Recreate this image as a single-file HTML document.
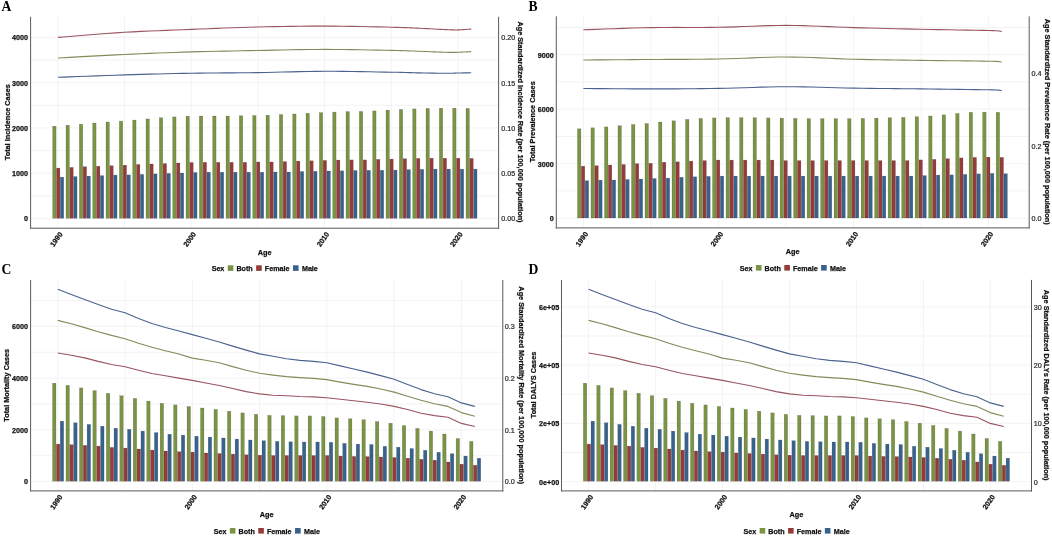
<!DOCTYPE html>
<html><head><meta charset="utf-8"><style>
html,body{margin:0;padding:0;background:#fff;}
body{width:1052px;height:536px;overflow:hidden;}
svg{display:block;}
text.b{font-weight:bold;fill:#111;stroke:#111;stroke-width:0.25px;}
text.r{fill:#2a2a2a;stroke:#2a2a2a;stroke-width:0.22px;}
svg{font-family:"Liberation Sans", sans-serif;will-change:transform;}
</style></head><body>
<svg width="1052" height="536" viewBox="0 0 1052 536">
<rect x="0" y="0" width="1052" height="536" fill="#fff"/>
<line x1="30.6" y1="218.5" x2="498.6" y2="218.5" stroke="#f0f0f0" stroke-width="0.8"/>
<line x1="30.6" y1="195.85" x2="498.6" y2="195.85" stroke="#f0f0f0" stroke-width="0.8"/>
<line x1="30.6" y1="173.2" x2="498.6" y2="173.2" stroke="#f0f0f0" stroke-width="0.8"/>
<line x1="30.6" y1="150.55" x2="498.6" y2="150.55" stroke="#f0f0f0" stroke-width="0.8"/>
<line x1="30.6" y1="127.9" x2="498.6" y2="127.9" stroke="#f0f0f0" stroke-width="0.8"/>
<line x1="30.6" y1="105.25" x2="498.6" y2="105.25" stroke="#f0f0f0" stroke-width="0.8"/>
<line x1="30.6" y1="82.6" x2="498.6" y2="82.6" stroke="#f0f0f0" stroke-width="0.8"/>
<line x1="30.6" y1="59.95" x2="498.6" y2="59.95" stroke="#f0f0f0" stroke-width="0.8"/>
<line x1="30.6" y1="37.3" x2="498.6" y2="37.3" stroke="#f0f0f0" stroke-width="0.8"/>
<line x1="57.9" y1="16.8" x2="57.9" y2="228.2" stroke="#f0f0f0" stroke-width="0.8"/>
<line x1="124.56" y1="16.8" x2="124.56" y2="228.2" stroke="#f0f0f0" stroke-width="0.8"/>
<line x1="191.23" y1="16.8" x2="191.23" y2="228.2" stroke="#f0f0f0" stroke-width="0.8"/>
<line x1="257.89" y1="16.8" x2="257.89" y2="228.2" stroke="#f0f0f0" stroke-width="0.8"/>
<line x1="324.56" y1="16.8" x2="324.56" y2="228.2" stroke="#f0f0f0" stroke-width="0.8"/>
<line x1="391.22" y1="16.8" x2="391.22" y2="228.2" stroke="#f0f0f0" stroke-width="0.8"/>
<line x1="457.89" y1="16.8" x2="457.89" y2="228.2" stroke="#f0f0f0" stroke-width="0.8"/>
<rect x="52.67" y="126.2" width="3.42" height="92.1" fill="#7a9444" stroke="#1a1a1a" stroke-opacity="0.35" stroke-width="0.4"/>
<rect x="56.49" y="168.1" width="3.42" height="50.2" fill="#963a3a" stroke="#1a1a1a" stroke-opacity="0.35" stroke-width="0.4"/>
<rect x="60.31" y="177.1" width="3.42" height="41.2" fill="#38628e" stroke="#1a1a1a" stroke-opacity="0.35" stroke-width="0.4"/>
<rect x="66" y="125.2" width="3.42" height="93.1" fill="#7a9444" stroke="#1a1a1a" stroke-opacity="0.35" stroke-width="0.4"/>
<rect x="69.82" y="167.4" width="3.42" height="50.9" fill="#963a3a" stroke="#1a1a1a" stroke-opacity="0.35" stroke-width="0.4"/>
<rect x="73.64" y="176.6" width="3.42" height="41.7" fill="#38628e" stroke="#1a1a1a" stroke-opacity="0.35" stroke-width="0.4"/>
<rect x="79.33" y="124.2" width="3.42" height="94.1" fill="#7a9444" stroke="#1a1a1a" stroke-opacity="0.35" stroke-width="0.4"/>
<rect x="83.15" y="166.7" width="3.42" height="51.6" fill="#963a3a" stroke="#1a1a1a" stroke-opacity="0.35" stroke-width="0.4"/>
<rect x="86.98" y="176.1" width="3.42" height="42.2" fill="#38628e" stroke="#1a1a1a" stroke-opacity="0.35" stroke-width="0.4"/>
<rect x="92.67" y="123" width="3.42" height="95.3" fill="#7a9444" stroke="#1a1a1a" stroke-opacity="0.35" stroke-width="0.4"/>
<rect x="96.49" y="166.2" width="3.42" height="52.1" fill="#963a3a" stroke="#1a1a1a" stroke-opacity="0.35" stroke-width="0.4"/>
<rect x="100.31" y="175.6" width="3.42" height="42.7" fill="#38628e" stroke="#1a1a1a" stroke-opacity="0.35" stroke-width="0.4"/>
<rect x="106" y="122" width="3.42" height="96.3" fill="#7a9444" stroke="#1a1a1a" stroke-opacity="0.35" stroke-width="0.4"/>
<rect x="109.82" y="165.7" width="3.42" height="52.6" fill="#963a3a" stroke="#1a1a1a" stroke-opacity="0.35" stroke-width="0.4"/>
<rect x="113.64" y="175.1" width="3.42" height="43.2" fill="#38628e" stroke="#1a1a1a" stroke-opacity="0.35" stroke-width="0.4"/>
<rect x="119.33" y="121.1" width="3.42" height="97.2" fill="#7a9444" stroke="#1a1a1a" stroke-opacity="0.35" stroke-width="0.4"/>
<rect x="123.15" y="165.2" width="3.42" height="53.1" fill="#963a3a" stroke="#1a1a1a" stroke-opacity="0.35" stroke-width="0.4"/>
<rect x="126.98" y="174.9" width="3.42" height="43.4" fill="#38628e" stroke="#1a1a1a" stroke-opacity="0.35" stroke-width="0.4"/>
<rect x="132.66" y="120.1" width="3.42" height="98.2" fill="#7a9444" stroke="#1a1a1a" stroke-opacity="0.35" stroke-width="0.4"/>
<rect x="136.49" y="164.5" width="3.42" height="53.8" fill="#963a3a" stroke="#1a1a1a" stroke-opacity="0.35" stroke-width="0.4"/>
<rect x="140.31" y="174.4" width="3.42" height="43.9" fill="#38628e" stroke="#1a1a1a" stroke-opacity="0.35" stroke-width="0.4"/>
<rect x="146" y="118.9" width="3.42" height="99.4" fill="#7a9444" stroke="#1a1a1a" stroke-opacity="0.35" stroke-width="0.4"/>
<rect x="149.82" y="164" width="3.42" height="54.3" fill="#963a3a" stroke="#1a1a1a" stroke-opacity="0.35" stroke-width="0.4"/>
<rect x="153.64" y="173.9" width="3.42" height="44.4" fill="#38628e" stroke="#1a1a1a" stroke-opacity="0.35" stroke-width="0.4"/>
<rect x="159.33" y="117.7" width="3.42" height="100.6" fill="#7a9444" stroke="#1a1a1a" stroke-opacity="0.35" stroke-width="0.4"/>
<rect x="163.15" y="163.5" width="3.42" height="54.8" fill="#963a3a" stroke="#1a1a1a" stroke-opacity="0.35" stroke-width="0.4"/>
<rect x="166.98" y="173.4" width="3.42" height="44.9" fill="#38628e" stroke="#1a1a1a" stroke-opacity="0.35" stroke-width="0.4"/>
<rect x="172.66" y="116.9" width="3.42" height="101.4" fill="#7a9444" stroke="#1a1a1a" stroke-opacity="0.35" stroke-width="0.4"/>
<rect x="176.49" y="163" width="3.42" height="55.3" fill="#963a3a" stroke="#1a1a1a" stroke-opacity="0.35" stroke-width="0.4"/>
<rect x="180.31" y="173" width="3.42" height="45.3" fill="#38628e" stroke="#1a1a1a" stroke-opacity="0.35" stroke-width="0.4"/>
<rect x="186" y="116.2" width="3.42" height="102.1" fill="#7a9444" stroke="#1a1a1a" stroke-opacity="0.35" stroke-width="0.4"/>
<rect x="189.82" y="162.5" width="3.42" height="55.8" fill="#963a3a" stroke="#1a1a1a" stroke-opacity="0.35" stroke-width="0.4"/>
<rect x="193.64" y="172.5" width="3.42" height="45.8" fill="#38628e" stroke="#1a1a1a" stroke-opacity="0.35" stroke-width="0.4"/>
<rect x="199.33" y="116" width="3.42" height="102.3" fill="#7a9444" stroke="#1a1a1a" stroke-opacity="0.35" stroke-width="0.4"/>
<rect x="203.15" y="162.3" width="3.42" height="56" fill="#963a3a" stroke="#1a1a1a" stroke-opacity="0.35" stroke-width="0.4"/>
<rect x="206.97" y="172.2" width="3.42" height="46.1" fill="#38628e" stroke="#1a1a1a" stroke-opacity="0.35" stroke-width="0.4"/>
<rect x="212.66" y="116" width="3.42" height="102.3" fill="#7a9444" stroke="#1a1a1a" stroke-opacity="0.35" stroke-width="0.4"/>
<rect x="216.48" y="162.3" width="3.42" height="56" fill="#963a3a" stroke="#1a1a1a" stroke-opacity="0.35" stroke-width="0.4"/>
<rect x="220.31" y="172.2" width="3.42" height="46.1" fill="#38628e" stroke="#1a1a1a" stroke-opacity="0.35" stroke-width="0.4"/>
<rect x="226" y="116" width="3.42" height="102.3" fill="#7a9444" stroke="#1a1a1a" stroke-opacity="0.35" stroke-width="0.4"/>
<rect x="229.82" y="162.3" width="3.42" height="56" fill="#963a3a" stroke="#1a1a1a" stroke-opacity="0.35" stroke-width="0.4"/>
<rect x="233.64" y="172.2" width="3.42" height="46.1" fill="#38628e" stroke="#1a1a1a" stroke-opacity="0.35" stroke-width="0.4"/>
<rect x="239.33" y="115.7" width="3.42" height="102.6" fill="#7a9444" stroke="#1a1a1a" stroke-opacity="0.35" stroke-width="0.4"/>
<rect x="243.15" y="162.3" width="3.42" height="56" fill="#963a3a" stroke="#1a1a1a" stroke-opacity="0.35" stroke-width="0.4"/>
<rect x="246.97" y="172.2" width="3.42" height="46.1" fill="#38628e" stroke="#1a1a1a" stroke-opacity="0.35" stroke-width="0.4"/>
<rect x="252.66" y="115.5" width="3.42" height="102.8" fill="#7a9444" stroke="#1a1a1a" stroke-opacity="0.35" stroke-width="0.4"/>
<rect x="256.48" y="162" width="3.42" height="56.3" fill="#963a3a" stroke="#1a1a1a" stroke-opacity="0.35" stroke-width="0.4"/>
<rect x="260.31" y="172.2" width="3.42" height="46.1" fill="#38628e" stroke="#1a1a1a" stroke-opacity="0.35" stroke-width="0.4"/>
<rect x="265.99" y="115.2" width="3.42" height="103.1" fill="#7a9444" stroke="#1a1a1a" stroke-opacity="0.35" stroke-width="0.4"/>
<rect x="269.82" y="162" width="3.42" height="56.3" fill="#963a3a" stroke="#1a1a1a" stroke-opacity="0.35" stroke-width="0.4"/>
<rect x="273.64" y="172" width="3.42" height="46.3" fill="#38628e" stroke="#1a1a1a" stroke-opacity="0.35" stroke-width="0.4"/>
<rect x="279.33" y="114.5" width="3.42" height="103.8" fill="#7a9444" stroke="#1a1a1a" stroke-opacity="0.35" stroke-width="0.4"/>
<rect x="283.15" y="161.6" width="3.42" height="56.7" fill="#963a3a" stroke="#1a1a1a" stroke-opacity="0.35" stroke-width="0.4"/>
<rect x="286.97" y="172" width="3.42" height="46.3" fill="#38628e" stroke="#1a1a1a" stroke-opacity="0.35" stroke-width="0.4"/>
<rect x="292.66" y="114" width="3.42" height="104.3" fill="#7a9444" stroke="#1a1a1a" stroke-opacity="0.35" stroke-width="0.4"/>
<rect x="296.48" y="161.1" width="3.42" height="57.2" fill="#963a3a" stroke="#1a1a1a" stroke-opacity="0.35" stroke-width="0.4"/>
<rect x="300.31" y="171.5" width="3.42" height="46.8" fill="#38628e" stroke="#1a1a1a" stroke-opacity="0.35" stroke-width="0.4"/>
<rect x="305.99" y="113.3" width="3.42" height="105" fill="#7a9444" stroke="#1a1a1a" stroke-opacity="0.35" stroke-width="0.4"/>
<rect x="309.82" y="160.8" width="3.42" height="57.5" fill="#963a3a" stroke="#1a1a1a" stroke-opacity="0.35" stroke-width="0.4"/>
<rect x="313.64" y="171.3" width="3.42" height="47" fill="#38628e" stroke="#1a1a1a" stroke-opacity="0.35" stroke-width="0.4"/>
<rect x="319.33" y="112.6" width="3.42" height="105.7" fill="#7a9444" stroke="#1a1a1a" stroke-opacity="0.35" stroke-width="0.4"/>
<rect x="323.15" y="160.4" width="3.42" height="57.9" fill="#963a3a" stroke="#1a1a1a" stroke-opacity="0.35" stroke-width="0.4"/>
<rect x="326.97" y="171" width="3.42" height="47.3" fill="#38628e" stroke="#1a1a1a" stroke-opacity="0.35" stroke-width="0.4"/>
<rect x="332.66" y="112.1" width="3.42" height="106.2" fill="#7a9444" stroke="#1a1a1a" stroke-opacity="0.35" stroke-width="0.4"/>
<rect x="336.48" y="160.1" width="3.42" height="58.2" fill="#963a3a" stroke="#1a1a1a" stroke-opacity="0.35" stroke-width="0.4"/>
<rect x="340.3" y="170.8" width="3.42" height="47.5" fill="#38628e" stroke="#1a1a1a" stroke-opacity="0.35" stroke-width="0.4"/>
<rect x="345.99" y="111.6" width="3.42" height="106.7" fill="#7a9444" stroke="#1a1a1a" stroke-opacity="0.35" stroke-width="0.4"/>
<rect x="349.81" y="159.9" width="3.42" height="58.4" fill="#963a3a" stroke="#1a1a1a" stroke-opacity="0.35" stroke-width="0.4"/>
<rect x="353.64" y="170.5" width="3.42" height="47.8" fill="#38628e" stroke="#1a1a1a" stroke-opacity="0.35" stroke-width="0.4"/>
<rect x="359.33" y="111.4" width="3.42" height="106.9" fill="#7a9444" stroke="#1a1a1a" stroke-opacity="0.35" stroke-width="0.4"/>
<rect x="363.15" y="159.9" width="3.42" height="58.4" fill="#963a3a" stroke="#1a1a1a" stroke-opacity="0.35" stroke-width="0.4"/>
<rect x="366.97" y="170.3" width="3.42" height="48" fill="#38628e" stroke="#1a1a1a" stroke-opacity="0.35" stroke-width="0.4"/>
<rect x="372.66" y="110.9" width="3.42" height="107.4" fill="#7a9444" stroke="#1a1a1a" stroke-opacity="0.35" stroke-width="0.4"/>
<rect x="376.48" y="159.4" width="3.42" height="58.9" fill="#963a3a" stroke="#1a1a1a" stroke-opacity="0.35" stroke-width="0.4"/>
<rect x="380.3" y="170.3" width="3.42" height="48" fill="#38628e" stroke="#1a1a1a" stroke-opacity="0.35" stroke-width="0.4"/>
<rect x="385.99" y="110.1" width="3.42" height="108.2" fill="#7a9444" stroke="#1a1a1a" stroke-opacity="0.35" stroke-width="0.4"/>
<rect x="389.81" y="159.1" width="3.42" height="59.2" fill="#963a3a" stroke="#1a1a1a" stroke-opacity="0.35" stroke-width="0.4"/>
<rect x="393.64" y="170.1" width="3.42" height="48.2" fill="#38628e" stroke="#1a1a1a" stroke-opacity="0.35" stroke-width="0.4"/>
<rect x="399.32" y="109.4" width="3.42" height="108.9" fill="#7a9444" stroke="#1a1a1a" stroke-opacity="0.35" stroke-width="0.4"/>
<rect x="403.15" y="158.7" width="3.42" height="59.6" fill="#963a3a" stroke="#1a1a1a" stroke-opacity="0.35" stroke-width="0.4"/>
<rect x="406.97" y="169.6" width="3.42" height="48.7" fill="#38628e" stroke="#1a1a1a" stroke-opacity="0.35" stroke-width="0.4"/>
<rect x="412.66" y="108.9" width="3.42" height="109.4" fill="#7a9444" stroke="#1a1a1a" stroke-opacity="0.35" stroke-width="0.4"/>
<rect x="416.48" y="158.4" width="3.42" height="59.9" fill="#963a3a" stroke="#1a1a1a" stroke-opacity="0.35" stroke-width="0.4"/>
<rect x="420.3" y="169.3" width="3.42" height="49" fill="#38628e" stroke="#1a1a1a" stroke-opacity="0.35" stroke-width="0.4"/>
<rect x="425.99" y="108.4" width="3.42" height="109.9" fill="#7a9444" stroke="#1a1a1a" stroke-opacity="0.35" stroke-width="0.4"/>
<rect x="429.81" y="158.2" width="3.42" height="60.1" fill="#963a3a" stroke="#1a1a1a" stroke-opacity="0.35" stroke-width="0.4"/>
<rect x="433.64" y="169.1" width="3.42" height="49.2" fill="#38628e" stroke="#1a1a1a" stroke-opacity="0.35" stroke-width="0.4"/>
<rect x="439.32" y="108.2" width="3.42" height="110.1" fill="#7a9444" stroke="#1a1a1a" stroke-opacity="0.35" stroke-width="0.4"/>
<rect x="443.15" y="158.2" width="3.42" height="60.1" fill="#963a3a" stroke="#1a1a1a" stroke-opacity="0.35" stroke-width="0.4"/>
<rect x="446.97" y="169.1" width="3.42" height="49.2" fill="#38628e" stroke="#1a1a1a" stroke-opacity="0.35" stroke-width="0.4"/>
<rect x="452.66" y="108.2" width="3.42" height="110.1" fill="#7a9444" stroke="#1a1a1a" stroke-opacity="0.35" stroke-width="0.4"/>
<rect x="456.48" y="158.2" width="3.42" height="60.1" fill="#963a3a" stroke="#1a1a1a" stroke-opacity="0.35" stroke-width="0.4"/>
<rect x="460.3" y="169.1" width="3.42" height="49.2" fill="#38628e" stroke="#1a1a1a" stroke-opacity="0.35" stroke-width="0.4"/>
<rect x="465.99" y="108.4" width="3.42" height="109.9" fill="#7a9444" stroke="#1a1a1a" stroke-opacity="0.35" stroke-width="0.4"/>
<rect x="469.81" y="158.4" width="3.42" height="59.9" fill="#963a3a" stroke="#1a1a1a" stroke-opacity="0.35" stroke-width="0.4"/>
<rect x="473.63" y="169.1" width="3.42" height="49.2" fill="#38628e" stroke="#1a1a1a" stroke-opacity="0.35" stroke-width="0.4"/>
<path d="M58 37.4 L63.13 36.99 L69.94 36.43 L78.05 35.76 L87.08 35.03 L96.62 34.28 L106.3 33.54 L115.72 32.87 L124.5 32.3 L132.84 31.83 L141.19 31.41 L149.55 31.03 L157.92 30.68 L166.28 30.35 L174.64 30.04 L182.98 29.72 L191.3 29.4 L199.59 29.07 L207.86 28.73 L216.11 28.4 L224.36 28.07 L232.61 27.77 L240.87 27.48 L249.17 27.22 L257.5 27 L265.88 26.8 L274.3 26.62 L282.76 26.46 L291.23 26.33 L299.7 26.23 L308.16 26.15 L316.6 26.11 L325 26.1 L333.63 26.14 L342.61 26.23 L351.72 26.37 L360.74 26.53 L369.46 26.7 L377.66 26.88 L385.11 27.05 L391.6 27.2 L396.99 27.34 L401.44 27.47 L405.15 27.6 L408.34 27.74 L411.2 27.87 L413.96 28.01 L416.83 28.15 L420 28.3 L423.46 28.46 L427 28.63 L430.55 28.82 L434.04 29 L437.4 29.18 L440.55 29.34 L443.45 29.48 L446 29.6 L448.14 29.69 L449.91 29.77 L451.39 29.84 L452.69 29.89 L453.88 29.92 L455.07 29.93 L456.35 29.93 L457.8 29.9 L459.49 29.84 L461.35 29.74 L463.3 29.61 L465.24 29.47 L467.09 29.32 L468.75 29.19 L470.16 29.08 L471.2 29" fill="none" stroke="#9a5460" stroke-width="1.1" stroke-linejoin="round"/>
<path d="M58 58 L63.13 57.72 L69.94 57.35 L78.05 56.9 L87.08 56.41 L96.62 55.9 L106.3 55.39 L115.72 54.92 L124.5 54.5 L132.84 54.12 L141.19 53.76 L149.55 53.41 L157.92 53.07 L166.28 52.75 L174.64 52.44 L182.98 52.16 L191.3 51.9 L199.59 51.67 L207.86 51.46 L216.11 51.27 L224.36 51.11 L232.61 50.95 L240.87 50.8 L249.17 50.65 L257.5 50.5 L265.88 50.33 L274.3 50.15 L282.76 49.97 L291.23 49.8 L299.7 49.65 L308.16 49.52 L316.6 49.43 L325 49.4 L333.63 49.43 L342.61 49.5 L351.72 49.63 L360.74 49.77 L369.46 49.94 L377.66 50.11 L385.11 50.27 L391.6 50.4 L396.99 50.52 L401.44 50.63 L405.15 50.74 L408.34 50.85 L411.2 50.96 L413.96 51.07 L416.83 51.18 L420 51.3 L423.46 51.43 L427 51.57 L430.55 51.71 L434.04 51.86 L437.4 51.99 L440.55 52.12 L443.45 52.22 L446 52.3 L448.14 52.35 L449.91 52.39 L451.39 52.4 L452.69 52.41 L453.88 52.4 L455.07 52.37 L456.35 52.34 L457.8 52.3 L459.49 52.24 L461.35 52.16 L463.3 52.06 L465.24 51.95 L467.09 51.84 L468.75 51.74 L470.16 51.66 L471.2 51.6" fill="none" stroke="#7f8d58" stroke-width="1.1" stroke-linejoin="round"/>
<path d="M58 77.3 L63.13 77.11 L69.94 76.85 L78.05 76.55 L87.08 76.21 L96.62 75.85 L106.3 75.51 L115.72 75.18 L124.5 74.9 L132.84 74.65 L141.19 74.4 L149.55 74.16 L157.92 73.94 L166.28 73.73 L174.64 73.53 L182.98 73.36 L191.3 73.2 L199.59 73.08 L207.86 72.99 L216.11 72.93 L224.36 72.88 L232.61 72.83 L240.87 72.77 L249.17 72.7 L257.5 72.6 L265.88 72.46 L274.3 72.27 L282.76 72.07 L291.23 71.86 L299.7 71.66 L308.16 71.49 L316.6 71.36 L325 71.3 L333.63 71.31 L342.61 71.38 L351.72 71.49 L360.74 71.62 L369.46 71.78 L377.66 71.94 L385.11 72.08 L391.6 72.2 L396.99 72.3 L401.44 72.4 L405.15 72.49 L408.34 72.58 L411.2 72.67 L413.96 72.75 L416.83 72.83 L420 72.9 L423.46 72.97 L427 73.04 L430.55 73.1 L434.04 73.16 L437.4 73.21 L440.55 73.26 L443.45 73.29 L446 73.3 L448.14 73.3 L449.91 73.27 L451.39 73.23 L452.69 73.19 L453.88 73.14 L455.07 73.08 L456.35 73.04 L457.8 73 L459.49 72.97 L461.35 72.94 L463.3 72.91 L465.24 72.88 L467.09 72.86 L468.75 72.83 L470.16 72.81 L471.2 72.8" fill="none" stroke="#4b6290" stroke-width="1.1" stroke-linejoin="round"/>
<line x1="30.6" y1="16.8" x2="30.6" y2="228.7" stroke="#5a5a5a" stroke-width="1"/>
<line x1="498.6" y1="16.8" x2="498.6" y2="228.7" stroke="#5a5a5a" stroke-width="1"/>
<line x1="30.1" y1="228.2" x2="499.1" y2="228.2" stroke="#5a5a5a" stroke-width="1"/>
<text x="28" y="221.48" text-anchor="end" class="b" font-size="7.2">0</text>
<text x="28" y="176.18" text-anchor="end" class="b" font-size="7.2">1000</text>
<text x="28" y="130.88" text-anchor="end" class="b" font-size="7.2">2000</text>
<text x="28" y="85.58" text-anchor="end" class="b" font-size="7.2">3000</text>
<text x="28" y="40.28" text-anchor="end" class="b" font-size="7.2">4000</text>
<text x="501.2" y="221.48" class="r" font-size="7.2">0.00</text>
<text x="501.2" y="176.18" class="r" font-size="7.2">0.05</text>
<text x="501.2" y="130.88" class="r" font-size="7.2">0.10</text>
<text x="501.2" y="85.58" class="r" font-size="7.2">0.15</text>
<text x="501.2" y="40.28" class="r" font-size="7.2">0.20</text>
<text transform="translate(58.7 231.2) rotate(-55)" text-anchor="end" class="b" font-size="7.2" dy="5.18">1990</text>
<text transform="translate(192.03 231.2) rotate(-55)" text-anchor="end" class="b" font-size="7.2" dy="5.18">2000</text>
<text transform="translate(325.36 231.2) rotate(-55)" text-anchor="end" class="b" font-size="7.2" dy="5.18">2010</text>
<text transform="translate(458.69 231.2) rotate(-55)" text-anchor="end" class="b" font-size="7.2" dy="5.18">2020</text>
<text transform="translate(9.6 122.2) rotate(-90)" text-anchor="middle" class="b" font-size="7.3">Total Incidence Cases</text>
<text transform="translate(518 122) rotate(90)" text-anchor="middle" class="b" font-size="7.3">Age Standardized Incidence Rate (per 100,000 population)</text>
<text x="264.6" y="254.5" text-anchor="middle" class="b" font-size="7.3">Age</text>
<text x="211.65" y="271.1" class="b" font-size="7.15">Sex</text>
<rect x="227.75" y="265.3" width="5.6" height="5.6" fill="#7a9444"/>
<rect x="256.15" y="265.3" width="5.6" height="5.6" fill="#963a3a"/>
<rect x="292.95" y="265.3" width="5.6" height="5.6" fill="#38628e"/>
<text x="236.45" y="271.1" class="b" font-size="7.15">Both</text>
<text x="264.85" y="271.1" class="b" font-size="7.15">Female</text>
<text x="301.95" y="271.1" class="b" font-size="7.15">Male</text>
<text x="1.4" y="11" font-family='"Liberation Serif", serif' font-weight="bold" font-size="13.6" fill="#000">A</text>
<line x1="556.3" y1="218.2" x2="1029.2" y2="218.2" stroke="#f0f0f0" stroke-width="0.8"/>
<line x1="556.3" y1="190.95" x2="1029.2" y2="190.95" stroke="#f0f0f0" stroke-width="0.8"/>
<line x1="556.3" y1="163.7" x2="1029.2" y2="163.7" stroke="#f0f0f0" stroke-width="0.8"/>
<line x1="556.3" y1="136.45" x2="1029.2" y2="136.45" stroke="#f0f0f0" stroke-width="0.8"/>
<line x1="556.3" y1="109.2" x2="1029.2" y2="109.2" stroke="#f0f0f0" stroke-width="0.8"/>
<line x1="556.3" y1="81.95" x2="1029.2" y2="81.95" stroke="#f0f0f0" stroke-width="0.8"/>
<line x1="556.3" y1="54.7" x2="1029.2" y2="54.7" stroke="#f0f0f0" stroke-width="0.8"/>
<line x1="556.3" y1="27.45" x2="1029.2" y2="27.45" stroke="#f0f0f0" stroke-width="0.8"/>
<line x1="583.4" y1="16.3" x2="583.4" y2="227.9" stroke="#f0f0f0" stroke-width="0.8"/>
<line x1="650.93" y1="16.3" x2="650.93" y2="227.9" stroke="#f0f0f0" stroke-width="0.8"/>
<line x1="718.47" y1="16.3" x2="718.47" y2="227.9" stroke="#f0f0f0" stroke-width="0.8"/>
<line x1="786" y1="16.3" x2="786" y2="227.9" stroke="#f0f0f0" stroke-width="0.8"/>
<line x1="853.54" y1="16.3" x2="853.54" y2="227.9" stroke="#f0f0f0" stroke-width="0.8"/>
<line x1="921.08" y1="16.3" x2="921.08" y2="227.9" stroke="#f0f0f0" stroke-width="0.8"/>
<line x1="988.61" y1="16.3" x2="988.61" y2="227.9" stroke="#f0f0f0" stroke-width="0.8"/>
<rect x="577.44" y="128.8" width="3.47" height="89.2" fill="#7a9444" stroke="#1a1a1a" stroke-opacity="0.35" stroke-width="0.4"/>
<rect x="581.31" y="166.2" width="3.47" height="51.8" fill="#963a3a" stroke="#1a1a1a" stroke-opacity="0.35" stroke-width="0.4"/>
<rect x="585.19" y="180.7" width="3.47" height="37.3" fill="#38628e" stroke="#1a1a1a" stroke-opacity="0.35" stroke-width="0.4"/>
<rect x="590.95" y="127.8" width="3.47" height="90.2" fill="#7a9444" stroke="#1a1a1a" stroke-opacity="0.35" stroke-width="0.4"/>
<rect x="594.82" y="165.7" width="3.47" height="52.3" fill="#963a3a" stroke="#1a1a1a" stroke-opacity="0.35" stroke-width="0.4"/>
<rect x="598.69" y="180.2" width="3.47" height="37.8" fill="#38628e" stroke="#1a1a1a" stroke-opacity="0.35" stroke-width="0.4"/>
<rect x="604.46" y="126.9" width="3.47" height="91.1" fill="#7a9444" stroke="#1a1a1a" stroke-opacity="0.35" stroke-width="0.4"/>
<rect x="608.33" y="165" width="3.47" height="53" fill="#963a3a" stroke="#1a1a1a" stroke-opacity="0.35" stroke-width="0.4"/>
<rect x="612.2" y="180" width="3.47" height="38" fill="#38628e" stroke="#1a1a1a" stroke-opacity="0.35" stroke-width="0.4"/>
<rect x="617.96" y="125.7" width="3.47" height="92.3" fill="#7a9444" stroke="#1a1a1a" stroke-opacity="0.35" stroke-width="0.4"/>
<rect x="621.83" y="164.5" width="3.47" height="53.5" fill="#963a3a" stroke="#1a1a1a" stroke-opacity="0.35" stroke-width="0.4"/>
<rect x="625.71" y="179.5" width="3.47" height="38.5" fill="#38628e" stroke="#1a1a1a" stroke-opacity="0.35" stroke-width="0.4"/>
<rect x="631.47" y="124.5" width="3.47" height="93.5" fill="#7a9444" stroke="#1a1a1a" stroke-opacity="0.35" stroke-width="0.4"/>
<rect x="635.34" y="163.7" width="3.47" height="54.3" fill="#963a3a" stroke="#1a1a1a" stroke-opacity="0.35" stroke-width="0.4"/>
<rect x="639.21" y="179" width="3.47" height="39" fill="#38628e" stroke="#1a1a1a" stroke-opacity="0.35" stroke-width="0.4"/>
<rect x="644.98" y="123.5" width="3.47" height="94.5" fill="#7a9444" stroke="#1a1a1a" stroke-opacity="0.35" stroke-width="0.4"/>
<rect x="648.85" y="163.3" width="3.47" height="54.7" fill="#963a3a" stroke="#1a1a1a" stroke-opacity="0.35" stroke-width="0.4"/>
<rect x="652.72" y="178.5" width="3.47" height="39.5" fill="#38628e" stroke="#1a1a1a" stroke-opacity="0.35" stroke-width="0.4"/>
<rect x="658.48" y="122" width="3.47" height="96" fill="#7a9444" stroke="#1a1a1a" stroke-opacity="0.35" stroke-width="0.4"/>
<rect x="662.36" y="162.3" width="3.47" height="55.7" fill="#963a3a" stroke="#1a1a1a" stroke-opacity="0.35" stroke-width="0.4"/>
<rect x="666.23" y="178.1" width="3.47" height="39.9" fill="#38628e" stroke="#1a1a1a" stroke-opacity="0.35" stroke-width="0.4"/>
<rect x="671.99" y="120.8" width="3.47" height="97.2" fill="#7a9444" stroke="#1a1a1a" stroke-opacity="0.35" stroke-width="0.4"/>
<rect x="675.86" y="161.8" width="3.47" height="56.2" fill="#963a3a" stroke="#1a1a1a" stroke-opacity="0.35" stroke-width="0.4"/>
<rect x="679.74" y="177.3" width="3.47" height="40.7" fill="#38628e" stroke="#1a1a1a" stroke-opacity="0.35" stroke-width="0.4"/>
<rect x="685.5" y="119.4" width="3.47" height="98.6" fill="#7a9444" stroke="#1a1a1a" stroke-opacity="0.35" stroke-width="0.4"/>
<rect x="689.37" y="161.1" width="3.47" height="56.9" fill="#963a3a" stroke="#1a1a1a" stroke-opacity="0.35" stroke-width="0.4"/>
<rect x="693.24" y="176.8" width="3.47" height="41.2" fill="#38628e" stroke="#1a1a1a" stroke-opacity="0.35" stroke-width="0.4"/>
<rect x="699" y="118.4" width="3.47" height="99.6" fill="#7a9444" stroke="#1a1a1a" stroke-opacity="0.35" stroke-width="0.4"/>
<rect x="702.88" y="160.6" width="3.47" height="57.4" fill="#963a3a" stroke="#1a1a1a" stroke-opacity="0.35" stroke-width="0.4"/>
<rect x="706.75" y="176.4" width="3.47" height="41.6" fill="#38628e" stroke="#1a1a1a" stroke-opacity="0.35" stroke-width="0.4"/>
<rect x="712.51" y="117.9" width="3.47" height="100.1" fill="#7a9444" stroke="#1a1a1a" stroke-opacity="0.35" stroke-width="0.4"/>
<rect x="716.38" y="160.1" width="3.47" height="57.9" fill="#963a3a" stroke="#1a1a1a" stroke-opacity="0.35" stroke-width="0.4"/>
<rect x="720.26" y="176.1" width="3.47" height="41.9" fill="#38628e" stroke="#1a1a1a" stroke-opacity="0.35" stroke-width="0.4"/>
<rect x="726.02" y="117.7" width="3.47" height="100.3" fill="#7a9444" stroke="#1a1a1a" stroke-opacity="0.35" stroke-width="0.4"/>
<rect x="729.89" y="160.1" width="3.47" height="57.9" fill="#963a3a" stroke="#1a1a1a" stroke-opacity="0.35" stroke-width="0.4"/>
<rect x="733.76" y="176.1" width="3.47" height="41.9" fill="#38628e" stroke="#1a1a1a" stroke-opacity="0.35" stroke-width="0.4"/>
<rect x="739.53" y="117.7" width="3.47" height="100.3" fill="#7a9444" stroke="#1a1a1a" stroke-opacity="0.35" stroke-width="0.4"/>
<rect x="743.4" y="160.1" width="3.47" height="57.9" fill="#963a3a" stroke="#1a1a1a" stroke-opacity="0.35" stroke-width="0.4"/>
<rect x="747.27" y="176.1" width="3.47" height="41.9" fill="#38628e" stroke="#1a1a1a" stroke-opacity="0.35" stroke-width="0.4"/>
<rect x="753.03" y="117.7" width="3.47" height="100.3" fill="#7a9444" stroke="#1a1a1a" stroke-opacity="0.35" stroke-width="0.4"/>
<rect x="756.9" y="160.1" width="3.47" height="57.9" fill="#963a3a" stroke="#1a1a1a" stroke-opacity="0.35" stroke-width="0.4"/>
<rect x="760.78" y="176.1" width="3.47" height="41.9" fill="#38628e" stroke="#1a1a1a" stroke-opacity="0.35" stroke-width="0.4"/>
<rect x="766.54" y="117.9" width="3.47" height="100.1" fill="#7a9444" stroke="#1a1a1a" stroke-opacity="0.35" stroke-width="0.4"/>
<rect x="770.41" y="160.1" width="3.47" height="57.9" fill="#963a3a" stroke="#1a1a1a" stroke-opacity="0.35" stroke-width="0.4"/>
<rect x="774.28" y="176.1" width="3.47" height="41.9" fill="#38628e" stroke="#1a1a1a" stroke-opacity="0.35" stroke-width="0.4"/>
<rect x="780.05" y="118.1" width="3.47" height="99.9" fill="#7a9444" stroke="#1a1a1a" stroke-opacity="0.35" stroke-width="0.4"/>
<rect x="783.92" y="160.6" width="3.47" height="57.4" fill="#963a3a" stroke="#1a1a1a" stroke-opacity="0.35" stroke-width="0.4"/>
<rect x="787.79" y="176.1" width="3.47" height="41.9" fill="#38628e" stroke="#1a1a1a" stroke-opacity="0.35" stroke-width="0.4"/>
<rect x="793.55" y="118.4" width="3.47" height="99.6" fill="#7a9444" stroke="#1a1a1a" stroke-opacity="0.35" stroke-width="0.4"/>
<rect x="797.43" y="160.6" width="3.47" height="57.4" fill="#963a3a" stroke="#1a1a1a" stroke-opacity="0.35" stroke-width="0.4"/>
<rect x="801.3" y="176.1" width="3.47" height="41.9" fill="#38628e" stroke="#1a1a1a" stroke-opacity="0.35" stroke-width="0.4"/>
<rect x="807.06" y="118.6" width="3.47" height="99.4" fill="#7a9444" stroke="#1a1a1a" stroke-opacity="0.35" stroke-width="0.4"/>
<rect x="810.93" y="160.6" width="3.47" height="57.4" fill="#963a3a" stroke="#1a1a1a" stroke-opacity="0.35" stroke-width="0.4"/>
<rect x="814.81" y="176.1" width="3.47" height="41.9" fill="#38628e" stroke="#1a1a1a" stroke-opacity="0.35" stroke-width="0.4"/>
<rect x="820.57" y="118.6" width="3.47" height="99.4" fill="#7a9444" stroke="#1a1a1a" stroke-opacity="0.35" stroke-width="0.4"/>
<rect x="824.44" y="160.6" width="3.47" height="57.4" fill="#963a3a" stroke="#1a1a1a" stroke-opacity="0.35" stroke-width="0.4"/>
<rect x="828.31" y="176.1" width="3.47" height="41.9" fill="#38628e" stroke="#1a1a1a" stroke-opacity="0.35" stroke-width="0.4"/>
<rect x="834.07" y="118.6" width="3.47" height="99.4" fill="#7a9444" stroke="#1a1a1a" stroke-opacity="0.35" stroke-width="0.4"/>
<rect x="837.95" y="160.6" width="3.47" height="57.4" fill="#963a3a" stroke="#1a1a1a" stroke-opacity="0.35" stroke-width="0.4"/>
<rect x="841.82" y="176.1" width="3.47" height="41.9" fill="#38628e" stroke="#1a1a1a" stroke-opacity="0.35" stroke-width="0.4"/>
<rect x="847.58" y="118.6" width="3.47" height="99.4" fill="#7a9444" stroke="#1a1a1a" stroke-opacity="0.35" stroke-width="0.4"/>
<rect x="851.45" y="160.6" width="3.47" height="57.4" fill="#963a3a" stroke="#1a1a1a" stroke-opacity="0.35" stroke-width="0.4"/>
<rect x="855.33" y="176.1" width="3.47" height="41.9" fill="#38628e" stroke="#1a1a1a" stroke-opacity="0.35" stroke-width="0.4"/>
<rect x="861.09" y="118.4" width="3.47" height="99.6" fill="#7a9444" stroke="#1a1a1a" stroke-opacity="0.35" stroke-width="0.4"/>
<rect x="864.96" y="160.6" width="3.47" height="57.4" fill="#963a3a" stroke="#1a1a1a" stroke-opacity="0.35" stroke-width="0.4"/>
<rect x="868.83" y="176.1" width="3.47" height="41.9" fill="#38628e" stroke="#1a1a1a" stroke-opacity="0.35" stroke-width="0.4"/>
<rect x="874.6" y="118.1" width="3.47" height="99.9" fill="#7a9444" stroke="#1a1a1a" stroke-opacity="0.35" stroke-width="0.4"/>
<rect x="878.47" y="160.6" width="3.47" height="57.4" fill="#963a3a" stroke="#1a1a1a" stroke-opacity="0.35" stroke-width="0.4"/>
<rect x="882.34" y="176.1" width="3.47" height="41.9" fill="#38628e" stroke="#1a1a1a" stroke-opacity="0.35" stroke-width="0.4"/>
<rect x="888.1" y="117.7" width="3.47" height="100.3" fill="#7a9444" stroke="#1a1a1a" stroke-opacity="0.35" stroke-width="0.4"/>
<rect x="891.97" y="160.6" width="3.47" height="57.4" fill="#963a3a" stroke="#1a1a1a" stroke-opacity="0.35" stroke-width="0.4"/>
<rect x="895.85" y="176.1" width="3.47" height="41.9" fill="#38628e" stroke="#1a1a1a" stroke-opacity="0.35" stroke-width="0.4"/>
<rect x="901.61" y="117.4" width="3.47" height="100.6" fill="#7a9444" stroke="#1a1a1a" stroke-opacity="0.35" stroke-width="0.4"/>
<rect x="905.48" y="160.6" width="3.47" height="57.4" fill="#963a3a" stroke="#1a1a1a" stroke-opacity="0.35" stroke-width="0.4"/>
<rect x="909.35" y="176.1" width="3.47" height="41.9" fill="#38628e" stroke="#1a1a1a" stroke-opacity="0.35" stroke-width="0.4"/>
<rect x="915.12" y="116.7" width="3.47" height="101.3" fill="#7a9444" stroke="#1a1a1a" stroke-opacity="0.35" stroke-width="0.4"/>
<rect x="918.99" y="159.9" width="3.47" height="58.1" fill="#963a3a" stroke="#1a1a1a" stroke-opacity="0.35" stroke-width="0.4"/>
<rect x="922.86" y="175.6" width="3.47" height="42.4" fill="#38628e" stroke="#1a1a1a" stroke-opacity="0.35" stroke-width="0.4"/>
<rect x="928.62" y="116" width="3.47" height="102" fill="#7a9444" stroke="#1a1a1a" stroke-opacity="0.35" stroke-width="0.4"/>
<rect x="932.5" y="159.4" width="3.47" height="58.6" fill="#963a3a" stroke="#1a1a1a" stroke-opacity="0.35" stroke-width="0.4"/>
<rect x="936.37" y="175.1" width="3.47" height="42.9" fill="#38628e" stroke="#1a1a1a" stroke-opacity="0.35" stroke-width="0.4"/>
<rect x="942.13" y="114.8" width="3.47" height="103.2" fill="#7a9444" stroke="#1a1a1a" stroke-opacity="0.35" stroke-width="0.4"/>
<rect x="946" y="158.7" width="3.47" height="59.3" fill="#963a3a" stroke="#1a1a1a" stroke-opacity="0.35" stroke-width="0.4"/>
<rect x="949.88" y="174.9" width="3.47" height="43.1" fill="#38628e" stroke="#1a1a1a" stroke-opacity="0.35" stroke-width="0.4"/>
<rect x="955.64" y="113.5" width="3.47" height="104.5" fill="#7a9444" stroke="#1a1a1a" stroke-opacity="0.35" stroke-width="0.4"/>
<rect x="959.51" y="157.9" width="3.47" height="60.1" fill="#963a3a" stroke="#1a1a1a" stroke-opacity="0.35" stroke-width="0.4"/>
<rect x="963.38" y="174.4" width="3.47" height="43.6" fill="#38628e" stroke="#1a1a1a" stroke-opacity="0.35" stroke-width="0.4"/>
<rect x="969.14" y="112.3" width="3.47" height="105.7" fill="#7a9444" stroke="#1a1a1a" stroke-opacity="0.35" stroke-width="0.4"/>
<rect x="973.02" y="157.4" width="3.47" height="60.6" fill="#963a3a" stroke="#1a1a1a" stroke-opacity="0.35" stroke-width="0.4"/>
<rect x="976.89" y="173.9" width="3.47" height="44.1" fill="#38628e" stroke="#1a1a1a" stroke-opacity="0.35" stroke-width="0.4"/>
<rect x="982.65" y="112.1" width="3.47" height="105.9" fill="#7a9444" stroke="#1a1a1a" stroke-opacity="0.35" stroke-width="0.4"/>
<rect x="986.52" y="157.2" width="3.47" height="60.8" fill="#963a3a" stroke="#1a1a1a" stroke-opacity="0.35" stroke-width="0.4"/>
<rect x="990.4" y="173.4" width="3.47" height="44.6" fill="#38628e" stroke="#1a1a1a" stroke-opacity="0.35" stroke-width="0.4"/>
<rect x="996.16" y="112.3" width="3.47" height="105.7" fill="#7a9444" stroke="#1a1a1a" stroke-opacity="0.35" stroke-width="0.4"/>
<rect x="1000.03" y="157.4" width="3.47" height="60.6" fill="#963a3a" stroke="#1a1a1a" stroke-opacity="0.35" stroke-width="0.4"/>
<rect x="1003.9" y="173.7" width="3.47" height="44.3" fill="#38628e" stroke="#1a1a1a" stroke-opacity="0.35" stroke-width="0.4"/>
<path d="M583.4 29.8 L588.65 29.62 L595.64 29.36 L603.96 29.05 L613.21 28.72 L622.98 28.38 L632.88 28.07 L642.48 27.8 L651.4 27.6 L659.82 27.48 L668.2 27.43 L676.55 27.42 L684.9 27.43 L693.25 27.45 L701.6 27.44 L709.98 27.4 L718.4 27.3 L726.86 27.11 L735.35 26.84 L743.87 26.52 L752.4 26.19 L760.93 25.88 L769.45 25.62 L777.94 25.45 L786.4 25.4 L794.82 25.48 L803.22 25.67 L811.59 25.95 L819.95 26.27 L828.3 26.63 L836.66 26.99 L845.02 27.32 L853.4 27.6 L861.78 27.84 L870.17 28.07 L878.55 28.3 L886.94 28.51 L895.33 28.72 L903.74 28.92 L912.16 29.11 L920.6 29.3 L929.44 29.48 L938.83 29.64 L948.45 29.8 L957.98 29.94 L967.09 30.09 L975.44 30.23 L982.72 30.36 L988.6 30.5 L992.95 30.64 L996.04 30.79 L998.11 30.93 L999.4 31.07 L1000.16 31.21 L1000.63 31.32 L1001.06 31.42 L1001.7 31.5" fill="none" stroke="#9a5460" stroke-width="1.1" stroke-linejoin="round"/>
<path d="M583.4 60 L588.65 59.96 L595.64 59.91 L603.96 59.85 L613.21 59.78 L622.98 59.71 L632.88 59.64 L642.48 59.57 L651.4 59.5 L659.82 59.45 L668.2 59.41 L676.55 59.38 L684.9 59.34 L693.25 59.3 L701.6 59.23 L709.98 59.13 L718.4 59 L726.86 58.79 L735.35 58.51 L743.87 58.18 L752.4 57.83 L760.93 57.51 L769.45 57.24 L777.94 57.06 L786.4 57 L794.82 57.08 L803.22 57.28 L811.59 57.56 L819.95 57.9 L828.3 58.26 L836.66 58.62 L845.02 58.94 L853.4 59.2 L861.78 59.4 L870.17 59.58 L878.55 59.74 L886.94 59.89 L895.33 60.02 L903.74 60.15 L912.16 60.28 L920.6 60.4 L929.44 60.52 L938.83 60.63 L948.45 60.73 L957.98 60.82 L967.09 60.92 L975.44 61.01 L982.72 61.1 L988.6 61.2 L992.95 61.31 L996.04 61.42 L998.11 61.54 L999.4 61.65 L1000.16 61.76 L1000.63 61.86 L1001.06 61.94 L1001.7 62" fill="none" stroke="#7f8d58" stroke-width="1.1" stroke-linejoin="round"/>
<path d="M583.4 88.5 L588.65 88.54 L595.64 88.59 L603.96 88.66 L613.21 88.73 L622.98 88.8 L632.88 88.85 L642.48 88.89 L651.4 88.9 L659.82 88.89 L668.2 88.87 L676.55 88.83 L684.9 88.78 L693.25 88.71 L701.6 88.63 L709.98 88.53 L718.4 88.4 L726.86 88.22 L735.35 87.99 L743.87 87.71 L752.4 87.43 L760.93 87.16 L769.45 86.94 L777.94 86.77 L786.4 86.7 L794.82 86.73 L803.22 86.85 L811.59 87.02 L819.95 87.24 L828.3 87.48 L836.66 87.72 L845.02 87.93 L853.4 88.1 L861.78 88.23 L870.17 88.34 L878.55 88.44 L886.94 88.53 L895.33 88.62 L903.74 88.71 L912.16 88.8 L920.6 88.9 L929.44 89.01 L938.83 89.12 L948.45 89.23 L957.98 89.35 L967.09 89.47 L975.44 89.58 L982.72 89.69 L988.6 89.8 L992.95 89.91 L996.04 90.03 L998.11 90.14 L999.4 90.26 L1000.16 90.36 L1000.63 90.46 L1001.06 90.54 L1001.7 90.6" fill="none" stroke="#4b6290" stroke-width="1.1" stroke-linejoin="round"/>
<line x1="556.3" y1="16.3" x2="556.3" y2="228.4" stroke="#5a5a5a" stroke-width="1"/>
<line x1="1029.2" y1="16.3" x2="1029.2" y2="228.4" stroke="#5a5a5a" stroke-width="1"/>
<line x1="555.8" y1="227.9" x2="1029.7" y2="227.9" stroke="#5a5a5a" stroke-width="1"/>
<text x="553.7" y="221.18" text-anchor="end" class="b" font-size="7.2">0</text>
<text x="553.7" y="166.68" text-anchor="end" class="b" font-size="7.2">3000</text>
<text x="553.7" y="112.18" text-anchor="end" class="b" font-size="7.2">6000</text>
<text x="553.7" y="57.68" text-anchor="end" class="b" font-size="7.2">9000</text>
<text x="1031.6" y="221.18" class="r" font-size="7.2">0.0</text>
<text x="1031.6" y="149.18" class="r" font-size="7.2">0.2</text>
<text x="1031.6" y="75.88" class="r" font-size="7.2">0.4</text>
<text transform="translate(584.2 230.9) rotate(-55)" text-anchor="end" class="b" font-size="7.2" dy="5.18">1990</text>
<text transform="translate(719.27 230.9) rotate(-55)" text-anchor="end" class="b" font-size="7.2" dy="5.18">2000</text>
<text transform="translate(854.34 230.9) rotate(-55)" text-anchor="end" class="b" font-size="7.2" dy="5.18">2010</text>
<text transform="translate(989.41 230.9) rotate(-55)" text-anchor="end" class="b" font-size="7.2" dy="5.18">2020</text>
<text transform="translate(535 121.8) rotate(-90)" text-anchor="middle" class="b" font-size="7.3">Total Prevalence Cases</text>
<text transform="translate(1044.6 121.7) rotate(90)" text-anchor="middle" class="b" font-size="7.3">Age Standardized Prevalence Rate (per 100,000 population)</text>
<text x="792.75" y="254.2" text-anchor="middle" class="b" font-size="7.3">Age</text>
<text x="739.8" y="270.8" class="b" font-size="7.15">Sex</text>
<rect x="755.9" y="265" width="5.6" height="5.6" fill="#7a9444"/>
<rect x="784.3" y="265" width="5.6" height="5.6" fill="#963a3a"/>
<rect x="821.1" y="265" width="5.6" height="5.6" fill="#38628e"/>
<text x="764.6" y="270.8" class="b" font-size="7.15">Both</text>
<text x="793" y="270.8" class="b" font-size="7.15">Female</text>
<text x="830.1" y="270.8" class="b" font-size="7.15">Male</text>
<text x="528.4" y="11" font-family='"Liberation Serif", serif' font-weight="bold" font-size="13.6" fill="#000">B</text>
<line x1="30.6" y1="481.5" x2="502.8" y2="481.5" stroke="#f0f0f0" stroke-width="0.8"/>
<line x1="30.6" y1="455.65" x2="502.8" y2="455.65" stroke="#f0f0f0" stroke-width="0.8"/>
<line x1="30.6" y1="429.8" x2="502.8" y2="429.8" stroke="#f0f0f0" stroke-width="0.8"/>
<line x1="30.6" y1="403.95" x2="502.8" y2="403.95" stroke="#f0f0f0" stroke-width="0.8"/>
<line x1="30.6" y1="378.1" x2="502.8" y2="378.1" stroke="#f0f0f0" stroke-width="0.8"/>
<line x1="30.6" y1="352.25" x2="502.8" y2="352.25" stroke="#f0f0f0" stroke-width="0.8"/>
<line x1="30.6" y1="326.4" x2="502.8" y2="326.4" stroke="#f0f0f0" stroke-width="0.8"/>
<line x1="30.6" y1="300.55" x2="502.8" y2="300.55" stroke="#f0f0f0" stroke-width="0.8"/>
<line x1="57.8" y1="279.9" x2="57.8" y2="490.9" stroke="#f0f0f0" stroke-width="0.8"/>
<line x1="125.06" y1="279.9" x2="125.06" y2="490.9" stroke="#f0f0f0" stroke-width="0.8"/>
<line x1="192.33" y1="279.9" x2="192.33" y2="490.9" stroke="#f0f0f0" stroke-width="0.8"/>
<line x1="259.59" y1="279.9" x2="259.59" y2="490.9" stroke="#f0f0f0" stroke-width="0.8"/>
<line x1="326.86" y1="279.9" x2="326.86" y2="490.9" stroke="#f0f0f0" stroke-width="0.8"/>
<line x1="394.12" y1="279.9" x2="394.12" y2="490.9" stroke="#f0f0f0" stroke-width="0.8"/>
<line x1="461.39" y1="279.9" x2="461.39" y2="490.9" stroke="#f0f0f0" stroke-width="0.8"/>
<rect x="52.52" y="383.2" width="3.46" height="98" fill="#7a9444" stroke="#1a1a1a" stroke-opacity="0.35" stroke-width="0.4"/>
<rect x="56.37" y="444.1" width="3.46" height="37.1" fill="#963a3a" stroke="#1a1a1a" stroke-opacity="0.35" stroke-width="0.4"/>
<rect x="60.23" y="421.2" width="3.46" height="60" fill="#38628e" stroke="#1a1a1a" stroke-opacity="0.35" stroke-width="0.4"/>
<rect x="65.97" y="385.4" width="3.46" height="95.8" fill="#7a9444" stroke="#1a1a1a" stroke-opacity="0.35" stroke-width="0.4"/>
<rect x="69.82" y="444.7" width="3.46" height="36.5" fill="#963a3a" stroke="#1a1a1a" stroke-opacity="0.35" stroke-width="0.4"/>
<rect x="73.68" y="422.8" width="3.46" height="58.4" fill="#38628e" stroke="#1a1a1a" stroke-opacity="0.35" stroke-width="0.4"/>
<rect x="79.42" y="387.9" width="3.46" height="93.3" fill="#7a9444" stroke="#1a1a1a" stroke-opacity="0.35" stroke-width="0.4"/>
<rect x="83.28" y="445.4" width="3.46" height="35.8" fill="#963a3a" stroke="#1a1a1a" stroke-opacity="0.35" stroke-width="0.4"/>
<rect x="87.13" y="424.4" width="3.46" height="56.8" fill="#38628e" stroke="#1a1a1a" stroke-opacity="0.35" stroke-width="0.4"/>
<rect x="92.87" y="390.6" width="3.46" height="90.6" fill="#7a9444" stroke="#1a1a1a" stroke-opacity="0.35" stroke-width="0.4"/>
<rect x="96.73" y="446.1" width="3.46" height="35.1" fill="#963a3a" stroke="#1a1a1a" stroke-opacity="0.35" stroke-width="0.4"/>
<rect x="100.59" y="426.2" width="3.46" height="55" fill="#38628e" stroke="#1a1a1a" stroke-opacity="0.35" stroke-width="0.4"/>
<rect x="106.33" y="393.3" width="3.46" height="87.9" fill="#7a9444" stroke="#1a1a1a" stroke-opacity="0.35" stroke-width="0.4"/>
<rect x="110.18" y="447.4" width="3.46" height="33.8" fill="#963a3a" stroke="#1a1a1a" stroke-opacity="0.35" stroke-width="0.4"/>
<rect x="114.04" y="428.2" width="3.46" height="53" fill="#38628e" stroke="#1a1a1a" stroke-opacity="0.35" stroke-width="0.4"/>
<rect x="119.78" y="395.7" width="3.46" height="85.5" fill="#7a9444" stroke="#1a1a1a" stroke-opacity="0.35" stroke-width="0.4"/>
<rect x="123.64" y="448.1" width="3.46" height="33.1" fill="#963a3a" stroke="#1a1a1a" stroke-opacity="0.35" stroke-width="0.4"/>
<rect x="127.49" y="429.3" width="3.46" height="51.9" fill="#38628e" stroke="#1a1a1a" stroke-opacity="0.35" stroke-width="0.4"/>
<rect x="133.23" y="398.4" width="3.46" height="82.8" fill="#7a9444" stroke="#1a1a1a" stroke-opacity="0.35" stroke-width="0.4"/>
<rect x="137.09" y="449" width="3.46" height="32.2" fill="#963a3a" stroke="#1a1a1a" stroke-opacity="0.35" stroke-width="0.4"/>
<rect x="140.95" y="431.1" width="3.46" height="50.1" fill="#38628e" stroke="#1a1a1a" stroke-opacity="0.35" stroke-width="0.4"/>
<rect x="146.69" y="401.1" width="3.46" height="80.1" fill="#7a9444" stroke="#1a1a1a" stroke-opacity="0.35" stroke-width="0.4"/>
<rect x="150.54" y="450.1" width="3.46" height="31.1" fill="#963a3a" stroke="#1a1a1a" stroke-opacity="0.35" stroke-width="0.4"/>
<rect x="154.4" y="432.6" width="3.46" height="48.6" fill="#38628e" stroke="#1a1a1a" stroke-opacity="0.35" stroke-width="0.4"/>
<rect x="160.14" y="403.3" width="3.46" height="77.9" fill="#7a9444" stroke="#1a1a1a" stroke-opacity="0.35" stroke-width="0.4"/>
<rect x="164" y="451" width="3.46" height="30.2" fill="#963a3a" stroke="#1a1a1a" stroke-opacity="0.35" stroke-width="0.4"/>
<rect x="167.85" y="434.2" width="3.46" height="47" fill="#38628e" stroke="#1a1a1a" stroke-opacity="0.35" stroke-width="0.4"/>
<rect x="173.59" y="404.9" width="3.46" height="76.3" fill="#7a9444" stroke="#1a1a1a" stroke-opacity="0.35" stroke-width="0.4"/>
<rect x="177.45" y="451.7" width="3.46" height="29.5" fill="#963a3a" stroke="#1a1a1a" stroke-opacity="0.35" stroke-width="0.4"/>
<rect x="181.31" y="435.1" width="3.46" height="46.1" fill="#38628e" stroke="#1a1a1a" stroke-opacity="0.35" stroke-width="0.4"/>
<rect x="187.05" y="406.5" width="3.46" height="74.7" fill="#7a9444" stroke="#1a1a1a" stroke-opacity="0.35" stroke-width="0.4"/>
<rect x="190.9" y="452.1" width="3.46" height="29.1" fill="#963a3a" stroke="#1a1a1a" stroke-opacity="0.35" stroke-width="0.4"/>
<rect x="194.76" y="436.2" width="3.46" height="45" fill="#38628e" stroke="#1a1a1a" stroke-opacity="0.35" stroke-width="0.4"/>
<rect x="200.5" y="408" width="3.46" height="73.2" fill="#7a9444" stroke="#1a1a1a" stroke-opacity="0.35" stroke-width="0.4"/>
<rect x="204.35" y="453" width="3.46" height="28.2" fill="#963a3a" stroke="#1a1a1a" stroke-opacity="0.35" stroke-width="0.4"/>
<rect x="208.21" y="437.1" width="3.46" height="44.1" fill="#38628e" stroke="#1a1a1a" stroke-opacity="0.35" stroke-width="0.4"/>
<rect x="213.95" y="409.4" width="3.46" height="71.8" fill="#7a9444" stroke="#1a1a1a" stroke-opacity="0.35" stroke-width="0.4"/>
<rect x="217.81" y="453.5" width="3.46" height="27.7" fill="#963a3a" stroke="#1a1a1a" stroke-opacity="0.35" stroke-width="0.4"/>
<rect x="221.66" y="438" width="3.46" height="43.2" fill="#38628e" stroke="#1a1a1a" stroke-opacity="0.35" stroke-width="0.4"/>
<rect x="227.4" y="411.2" width="3.46" height="70" fill="#7a9444" stroke="#1a1a1a" stroke-opacity="0.35" stroke-width="0.4"/>
<rect x="231.26" y="454.1" width="3.46" height="27.1" fill="#963a3a" stroke="#1a1a1a" stroke-opacity="0.35" stroke-width="0.4"/>
<rect x="235.12" y="439.1" width="3.46" height="42.1" fill="#38628e" stroke="#1a1a1a" stroke-opacity="0.35" stroke-width="0.4"/>
<rect x="240.86" y="412.9" width="3.46" height="68.3" fill="#7a9444" stroke="#1a1a1a" stroke-opacity="0.35" stroke-width="0.4"/>
<rect x="244.71" y="454.8" width="3.46" height="26.4" fill="#963a3a" stroke="#1a1a1a" stroke-opacity="0.35" stroke-width="0.4"/>
<rect x="248.57" y="440" width="3.46" height="41.2" fill="#38628e" stroke="#1a1a1a" stroke-opacity="0.35" stroke-width="0.4"/>
<rect x="254.31" y="414.3" width="3.46" height="66.9" fill="#7a9444" stroke="#1a1a1a" stroke-opacity="0.35" stroke-width="0.4"/>
<rect x="258.17" y="455.2" width="3.46" height="26" fill="#963a3a" stroke="#1a1a1a" stroke-opacity="0.35" stroke-width="0.4"/>
<rect x="262.02" y="440.7" width="3.46" height="40.5" fill="#38628e" stroke="#1a1a1a" stroke-opacity="0.35" stroke-width="0.4"/>
<rect x="267.76" y="415.4" width="3.46" height="65.8" fill="#7a9444" stroke="#1a1a1a" stroke-opacity="0.35" stroke-width="0.4"/>
<rect x="271.62" y="455.5" width="3.46" height="25.7" fill="#963a3a" stroke="#1a1a1a" stroke-opacity="0.35" stroke-width="0.4"/>
<rect x="275.48" y="441.4" width="3.46" height="39.8" fill="#38628e" stroke="#1a1a1a" stroke-opacity="0.35" stroke-width="0.4"/>
<rect x="281.22" y="415.6" width="3.46" height="65.6" fill="#7a9444" stroke="#1a1a1a" stroke-opacity="0.35" stroke-width="0.4"/>
<rect x="285.07" y="455.5" width="3.46" height="25.7" fill="#963a3a" stroke="#1a1a1a" stroke-opacity="0.35" stroke-width="0.4"/>
<rect x="288.93" y="441.8" width="3.46" height="39.4" fill="#38628e" stroke="#1a1a1a" stroke-opacity="0.35" stroke-width="0.4"/>
<rect x="294.67" y="415.9" width="3.46" height="65.3" fill="#7a9444" stroke="#1a1a1a" stroke-opacity="0.35" stroke-width="0.4"/>
<rect x="298.53" y="455.5" width="3.46" height="25.7" fill="#963a3a" stroke="#1a1a1a" stroke-opacity="0.35" stroke-width="0.4"/>
<rect x="302.38" y="442" width="3.46" height="39.2" fill="#38628e" stroke="#1a1a1a" stroke-opacity="0.35" stroke-width="0.4"/>
<rect x="308.12" y="415.9" width="3.46" height="65.3" fill="#7a9444" stroke="#1a1a1a" stroke-opacity="0.35" stroke-width="0.4"/>
<rect x="311.98" y="455.5" width="3.46" height="25.7" fill="#963a3a" stroke="#1a1a1a" stroke-opacity="0.35" stroke-width="0.4"/>
<rect x="315.84" y="442" width="3.46" height="39.2" fill="#38628e" stroke="#1a1a1a" stroke-opacity="0.35" stroke-width="0.4"/>
<rect x="321.58" y="416.5" width="3.46" height="64.7" fill="#7a9444" stroke="#1a1a1a" stroke-opacity="0.35" stroke-width="0.4"/>
<rect x="325.43" y="455.5" width="3.46" height="25.7" fill="#963a3a" stroke="#1a1a1a" stroke-opacity="0.35" stroke-width="0.4"/>
<rect x="329.29" y="442.3" width="3.46" height="38.9" fill="#38628e" stroke="#1a1a1a" stroke-opacity="0.35" stroke-width="0.4"/>
<rect x="335.03" y="417.9" width="3.46" height="63.3" fill="#7a9444" stroke="#1a1a1a" stroke-opacity="0.35" stroke-width="0.4"/>
<rect x="338.88" y="456.1" width="3.46" height="25.1" fill="#963a3a" stroke="#1a1a1a" stroke-opacity="0.35" stroke-width="0.4"/>
<rect x="342.74" y="443.4" width="3.46" height="37.8" fill="#38628e" stroke="#1a1a1a" stroke-opacity="0.35" stroke-width="0.4"/>
<rect x="348.48" y="418.8" width="3.46" height="62.4" fill="#7a9444" stroke="#1a1a1a" stroke-opacity="0.35" stroke-width="0.4"/>
<rect x="352.34" y="456.4" width="3.46" height="24.8" fill="#963a3a" stroke="#1a1a1a" stroke-opacity="0.35" stroke-width="0.4"/>
<rect x="356.19" y="444.1" width="3.46" height="37.1" fill="#38628e" stroke="#1a1a1a" stroke-opacity="0.35" stroke-width="0.4"/>
<rect x="361.93" y="419.7" width="3.46" height="61.5" fill="#7a9444" stroke="#1a1a1a" stroke-opacity="0.35" stroke-width="0.4"/>
<rect x="365.79" y="456.6" width="3.46" height="24.6" fill="#963a3a" stroke="#1a1a1a" stroke-opacity="0.35" stroke-width="0.4"/>
<rect x="369.65" y="444.5" width="3.46" height="36.7" fill="#38628e" stroke="#1a1a1a" stroke-opacity="0.35" stroke-width="0.4"/>
<rect x="375.39" y="421.5" width="3.46" height="59.7" fill="#7a9444" stroke="#1a1a1a" stroke-opacity="0.35" stroke-width="0.4"/>
<rect x="379.24" y="457" width="3.46" height="24.2" fill="#963a3a" stroke="#1a1a1a" stroke-opacity="0.35" stroke-width="0.4"/>
<rect x="383.1" y="446.3" width="3.46" height="34.9" fill="#38628e" stroke="#1a1a1a" stroke-opacity="0.35" stroke-width="0.4"/>
<rect x="388.84" y="423.2" width="3.46" height="58" fill="#7a9444" stroke="#1a1a1a" stroke-opacity="0.35" stroke-width="0.4"/>
<rect x="392.7" y="457.5" width="3.46" height="23.7" fill="#963a3a" stroke="#1a1a1a" stroke-opacity="0.35" stroke-width="0.4"/>
<rect x="396.55" y="447.2" width="3.46" height="34" fill="#38628e" stroke="#1a1a1a" stroke-opacity="0.35" stroke-width="0.4"/>
<rect x="402.29" y="425.5" width="3.46" height="55.7" fill="#7a9444" stroke="#1a1a1a" stroke-opacity="0.35" stroke-width="0.4"/>
<rect x="406.15" y="458.2" width="3.46" height="23" fill="#963a3a" stroke="#1a1a1a" stroke-opacity="0.35" stroke-width="0.4"/>
<rect x="410.01" y="448.5" width="3.46" height="32.7" fill="#38628e" stroke="#1a1a1a" stroke-opacity="0.35" stroke-width="0.4"/>
<rect x="415.75" y="428.4" width="3.46" height="52.8" fill="#7a9444" stroke="#1a1a1a" stroke-opacity="0.35" stroke-width="0.4"/>
<rect x="419.6" y="459.3" width="3.46" height="21.9" fill="#963a3a" stroke="#1a1a1a" stroke-opacity="0.35" stroke-width="0.4"/>
<rect x="423.46" y="450.3" width="3.46" height="30.9" fill="#38628e" stroke="#1a1a1a" stroke-opacity="0.35" stroke-width="0.4"/>
<rect x="429.2" y="431.1" width="3.46" height="50.1" fill="#7a9444" stroke="#1a1a1a" stroke-opacity="0.35" stroke-width="0.4"/>
<rect x="433.06" y="460.2" width="3.46" height="21" fill="#963a3a" stroke="#1a1a1a" stroke-opacity="0.35" stroke-width="0.4"/>
<rect x="436.91" y="452.3" width="3.46" height="28.9" fill="#38628e" stroke="#1a1a1a" stroke-opacity="0.35" stroke-width="0.4"/>
<rect x="442.65" y="434" width="3.46" height="47.2" fill="#7a9444" stroke="#1a1a1a" stroke-opacity="0.35" stroke-width="0.4"/>
<rect x="446.51" y="462" width="3.46" height="19.2" fill="#963a3a" stroke="#1a1a1a" stroke-opacity="0.35" stroke-width="0.4"/>
<rect x="450.37" y="453.7" width="3.46" height="27.5" fill="#38628e" stroke="#1a1a1a" stroke-opacity="0.35" stroke-width="0.4"/>
<rect x="456.11" y="438.5" width="3.46" height="42.7" fill="#7a9444" stroke="#1a1a1a" stroke-opacity="0.35" stroke-width="0.4"/>
<rect x="459.96" y="464.2" width="3.46" height="17" fill="#963a3a" stroke="#1a1a1a" stroke-opacity="0.35" stroke-width="0.4"/>
<rect x="463.82" y="456.1" width="3.46" height="25.1" fill="#38628e" stroke="#1a1a1a" stroke-opacity="0.35" stroke-width="0.4"/>
<rect x="469.56" y="441.4" width="3.46" height="39.8" fill="#7a9444" stroke="#1a1a1a" stroke-opacity="0.35" stroke-width="0.4"/>
<rect x="473.41" y="465.3" width="3.46" height="15.9" fill="#963a3a" stroke="#1a1a1a" stroke-opacity="0.35" stroke-width="0.4"/>
<rect x="477.27" y="458.2" width="3.46" height="23" fill="#38628e" stroke="#1a1a1a" stroke-opacity="0.35" stroke-width="0.4"/>
<path d="M57.8 353 L71.25 355.3 L84.71 357.9 L98.16 361.4 L111.61 364.5 L125.06 366.8 L138.52 370.3 L151.97 373.5 L165.42 375.8 L178.88 378.1 L192.33 380.4 L205.78 383 L219.24 385.5 L232.69 388.5 L246.14 391.6 L259.59 393.9 L273.05 395.2 L286.5 395.8 L299.95 396.5 L313.41 396.9 L326.86 397.7 L340.31 399.3 L353.77 400.8 L367.22 402.2 L380.67 404 L394.12 406.4 L407.58 409.5 L421.03 413.2 L434.48 415.6 L447.94 417.3 L461.39 423.4 L474.84 426.5" fill="none" stroke="#9a5460" stroke-width="1.1" stroke-linejoin="round"/>
<path d="M57.8 320.4 L71.25 323.7 L84.71 327.6 L98.16 331.7 L111.61 335.4 L125.06 338.7 L138.52 343.2 L151.97 347.3 L165.42 350.7 L178.88 354 L192.33 358.1 L205.78 360.3 L219.24 362.8 L232.69 366.6 L246.14 370.3 L259.59 373.3 L273.05 375.1 L286.5 376.6 L299.95 377.6 L313.41 378.4 L326.86 379.6 L340.31 382.1 L353.77 384.4 L367.22 386.4 L380.67 389 L394.12 392.1 L407.58 396.2 L421.03 400.3 L434.48 403.7 L447.94 406.4 L461.39 412.6 L474.84 416.3" fill="none" stroke="#7f8d58" stroke-width="1.1" stroke-linejoin="round"/>
<path d="M57.8 289.2 L71.25 294.4 L84.71 299.5 L98.16 304.6 L111.61 309.3 L125.06 312.8 L138.52 318.6 L151.97 323.5 L165.42 327.5 L178.88 331 L192.33 334.6 L205.78 338.3 L219.24 342 L232.69 346.1 L246.14 350.1 L259.59 353.9 L273.05 356.3 L286.5 358.7 L299.95 360.4 L313.41 361.4 L326.86 362.8 L340.31 365.9 L353.77 369 L367.22 372.1 L380.67 375.6 L394.12 379.3 L407.58 384.5 L421.03 389.6 L434.48 393.7 L447.94 396.8 L461.39 402.9 L474.84 406.4" fill="none" stroke="#4b6290" stroke-width="1.1" stroke-linejoin="round"/>
<line x1="30.6" y1="279.9" x2="30.6" y2="491.4" stroke="#5a5a5a" stroke-width="1"/>
<line x1="502.8" y1="279.9" x2="502.8" y2="491.4" stroke="#5a5a5a" stroke-width="1"/>
<line x1="30.1" y1="490.9" x2="503.3" y2="490.9" stroke="#5a5a5a" stroke-width="1"/>
<text x="27.9" y="484.48" text-anchor="end" class="b" font-size="7.2">0</text>
<text x="27.9" y="432.78" text-anchor="end" class="b" font-size="7.2">2000</text>
<text x="27.9" y="381.08" text-anchor="end" class="b" font-size="7.2">4000</text>
<text x="27.9" y="329.38" text-anchor="end" class="b" font-size="7.2">6000</text>
<text x="504.8" y="484.48" class="r" font-size="7.2">0.0</text>
<text x="504.8" y="432.78" class="r" font-size="7.2">0.1</text>
<text x="504.8" y="381.08" class="r" font-size="7.2">0.2</text>
<text x="504.8" y="329.38" class="r" font-size="7.2">0.3</text>
<text transform="translate(58.6 493.9) rotate(-55)" text-anchor="end" class="b" font-size="7.2" dy="5.18">1990</text>
<text transform="translate(193.13 493.9) rotate(-55)" text-anchor="end" class="b" font-size="7.2" dy="5.18">2000</text>
<text transform="translate(327.66 493.9) rotate(-55)" text-anchor="end" class="b" font-size="7.2" dy="5.18">2010</text>
<text transform="translate(462.19 493.9) rotate(-55)" text-anchor="end" class="b" font-size="7.2" dy="5.18">2020</text>
<text transform="translate(9.4 385.3) rotate(-90)" text-anchor="middle" class="b" font-size="7.3">Total Mortality Cases</text>
<text transform="translate(518.9 385.3) rotate(90)" text-anchor="middle" class="b" font-size="7.3">Age Standardized Mortality Rate (per 100,000 population)</text>
<text x="266.7" y="517.2" text-anchor="middle" class="b" font-size="7.3">Age</text>
<text x="213.75" y="533.8" class="b" font-size="7.15">Sex</text>
<rect x="229.85" y="528" width="5.6" height="5.6" fill="#7a9444"/>
<rect x="258.25" y="528" width="5.6" height="5.6" fill="#963a3a"/>
<rect x="295.05" y="528" width="5.6" height="5.6" fill="#38628e"/>
<text x="238.55" y="533.8" class="b" font-size="7.15">Both</text>
<text x="266.95" y="533.8" class="b" font-size="7.15">Female</text>
<text x="304.05" y="533.8" class="b" font-size="7.15">Male</text>
<text x="1.4" y="274" font-family='"Liberation Serif", serif' font-weight="bold" font-size="13.6" fill="#000">C</text>
<line x1="561.5" y1="481.6" x2="1031.5" y2="481.6" stroke="#f0f0f0" stroke-width="0.8"/>
<line x1="561.5" y1="452.48" x2="1031.5" y2="452.48" stroke="#f0f0f0" stroke-width="0.8"/>
<line x1="561.5" y1="423.36" x2="1031.5" y2="423.36" stroke="#f0f0f0" stroke-width="0.8"/>
<line x1="561.5" y1="394.24" x2="1031.5" y2="394.24" stroke="#f0f0f0" stroke-width="0.8"/>
<line x1="561.5" y1="365.12" x2="1031.5" y2="365.12" stroke="#f0f0f0" stroke-width="0.8"/>
<line x1="561.5" y1="336" x2="1031.5" y2="336" stroke="#f0f0f0" stroke-width="0.8"/>
<line x1="561.5" y1="306.88" x2="1031.5" y2="306.88" stroke="#f0f0f0" stroke-width="0.8"/>
<line x1="588.6" y1="279.9" x2="588.6" y2="490.9" stroke="#f0f0f0" stroke-width="0.8"/>
<line x1="655.55" y1="279.9" x2="655.55" y2="490.9" stroke="#f0f0f0" stroke-width="0.8"/>
<line x1="722.5" y1="279.9" x2="722.5" y2="490.9" stroke="#f0f0f0" stroke-width="0.8"/>
<line x1="789.45" y1="279.9" x2="789.45" y2="490.9" stroke="#f0f0f0" stroke-width="0.8"/>
<line x1="856.4" y1="279.9" x2="856.4" y2="490.9" stroke="#f0f0f0" stroke-width="0.8"/>
<line x1="923.35" y1="279.9" x2="923.35" y2="490.9" stroke="#f0f0f0" stroke-width="0.8"/>
<line x1="990.3" y1="279.9" x2="990.3" y2="490.9" stroke="#f0f0f0" stroke-width="0.8"/>
<rect x="583.34" y="383.2" width="3.44" height="98" fill="#7a9444" stroke="#1a1a1a" stroke-opacity="0.35" stroke-width="0.4"/>
<rect x="587.18" y="444.1" width="3.44" height="37.1" fill="#963a3a" stroke="#1a1a1a" stroke-opacity="0.35" stroke-width="0.4"/>
<rect x="591.02" y="421.2" width="3.44" height="60" fill="#38628e" stroke="#1a1a1a" stroke-opacity="0.35" stroke-width="0.4"/>
<rect x="596.73" y="385.4" width="3.44" height="95.8" fill="#7a9444" stroke="#1a1a1a" stroke-opacity="0.35" stroke-width="0.4"/>
<rect x="600.57" y="444.7" width="3.44" height="36.5" fill="#963a3a" stroke="#1a1a1a" stroke-opacity="0.35" stroke-width="0.4"/>
<rect x="604.41" y="422.8" width="3.44" height="58.4" fill="#38628e" stroke="#1a1a1a" stroke-opacity="0.35" stroke-width="0.4"/>
<rect x="610.12" y="387.9" width="3.44" height="93.3" fill="#7a9444" stroke="#1a1a1a" stroke-opacity="0.35" stroke-width="0.4"/>
<rect x="613.96" y="445.4" width="3.44" height="35.8" fill="#963a3a" stroke="#1a1a1a" stroke-opacity="0.35" stroke-width="0.4"/>
<rect x="617.8" y="424.4" width="3.44" height="56.8" fill="#38628e" stroke="#1a1a1a" stroke-opacity="0.35" stroke-width="0.4"/>
<rect x="623.51" y="390.6" width="3.44" height="90.6" fill="#7a9444" stroke="#1a1a1a" stroke-opacity="0.35" stroke-width="0.4"/>
<rect x="627.35" y="446.1" width="3.44" height="35.1" fill="#963a3a" stroke="#1a1a1a" stroke-opacity="0.35" stroke-width="0.4"/>
<rect x="631.19" y="426.2" width="3.44" height="55" fill="#38628e" stroke="#1a1a1a" stroke-opacity="0.35" stroke-width="0.4"/>
<rect x="636.9" y="393.3" width="3.44" height="87.9" fill="#7a9444" stroke="#1a1a1a" stroke-opacity="0.35" stroke-width="0.4"/>
<rect x="640.74" y="447.4" width="3.44" height="33.8" fill="#963a3a" stroke="#1a1a1a" stroke-opacity="0.35" stroke-width="0.4"/>
<rect x="644.58" y="428.2" width="3.44" height="53" fill="#38628e" stroke="#1a1a1a" stroke-opacity="0.35" stroke-width="0.4"/>
<rect x="650.29" y="395.7" width="3.44" height="85.5" fill="#7a9444" stroke="#1a1a1a" stroke-opacity="0.35" stroke-width="0.4"/>
<rect x="654.13" y="448.1" width="3.44" height="33.1" fill="#963a3a" stroke="#1a1a1a" stroke-opacity="0.35" stroke-width="0.4"/>
<rect x="657.97" y="429.3" width="3.44" height="51.9" fill="#38628e" stroke="#1a1a1a" stroke-opacity="0.35" stroke-width="0.4"/>
<rect x="663.68" y="398.4" width="3.44" height="82.8" fill="#7a9444" stroke="#1a1a1a" stroke-opacity="0.35" stroke-width="0.4"/>
<rect x="667.52" y="449" width="3.44" height="32.2" fill="#963a3a" stroke="#1a1a1a" stroke-opacity="0.35" stroke-width="0.4"/>
<rect x="671.36" y="431.1" width="3.44" height="50.1" fill="#38628e" stroke="#1a1a1a" stroke-opacity="0.35" stroke-width="0.4"/>
<rect x="677.07" y="401.1" width="3.44" height="80.1" fill="#7a9444" stroke="#1a1a1a" stroke-opacity="0.35" stroke-width="0.4"/>
<rect x="680.91" y="450.1" width="3.44" height="31.1" fill="#963a3a" stroke="#1a1a1a" stroke-opacity="0.35" stroke-width="0.4"/>
<rect x="684.75" y="432.6" width="3.44" height="48.6" fill="#38628e" stroke="#1a1a1a" stroke-opacity="0.35" stroke-width="0.4"/>
<rect x="690.46" y="403.3" width="3.44" height="77.9" fill="#7a9444" stroke="#1a1a1a" stroke-opacity="0.35" stroke-width="0.4"/>
<rect x="694.3" y="451" width="3.44" height="30.2" fill="#963a3a" stroke="#1a1a1a" stroke-opacity="0.35" stroke-width="0.4"/>
<rect x="698.14" y="434.2" width="3.44" height="47" fill="#38628e" stroke="#1a1a1a" stroke-opacity="0.35" stroke-width="0.4"/>
<rect x="703.85" y="404.9" width="3.44" height="76.3" fill="#7a9444" stroke="#1a1a1a" stroke-opacity="0.35" stroke-width="0.4"/>
<rect x="707.69" y="451.7" width="3.44" height="29.5" fill="#963a3a" stroke="#1a1a1a" stroke-opacity="0.35" stroke-width="0.4"/>
<rect x="711.53" y="435.1" width="3.44" height="46.1" fill="#38628e" stroke="#1a1a1a" stroke-opacity="0.35" stroke-width="0.4"/>
<rect x="717.24" y="406.5" width="3.44" height="74.7" fill="#7a9444" stroke="#1a1a1a" stroke-opacity="0.35" stroke-width="0.4"/>
<rect x="721.08" y="452.1" width="3.44" height="29.1" fill="#963a3a" stroke="#1a1a1a" stroke-opacity="0.35" stroke-width="0.4"/>
<rect x="724.92" y="436.2" width="3.44" height="45" fill="#38628e" stroke="#1a1a1a" stroke-opacity="0.35" stroke-width="0.4"/>
<rect x="730.63" y="408" width="3.44" height="73.2" fill="#7a9444" stroke="#1a1a1a" stroke-opacity="0.35" stroke-width="0.4"/>
<rect x="734.47" y="453" width="3.44" height="28.2" fill="#963a3a" stroke="#1a1a1a" stroke-opacity="0.35" stroke-width="0.4"/>
<rect x="738.31" y="437.1" width="3.44" height="44.1" fill="#38628e" stroke="#1a1a1a" stroke-opacity="0.35" stroke-width="0.4"/>
<rect x="744.02" y="409.4" width="3.44" height="71.8" fill="#7a9444" stroke="#1a1a1a" stroke-opacity="0.35" stroke-width="0.4"/>
<rect x="747.86" y="453.5" width="3.44" height="27.7" fill="#963a3a" stroke="#1a1a1a" stroke-opacity="0.35" stroke-width="0.4"/>
<rect x="751.7" y="438" width="3.44" height="43.2" fill="#38628e" stroke="#1a1a1a" stroke-opacity="0.35" stroke-width="0.4"/>
<rect x="757.41" y="411.2" width="3.44" height="70" fill="#7a9444" stroke="#1a1a1a" stroke-opacity="0.35" stroke-width="0.4"/>
<rect x="761.25" y="454.1" width="3.44" height="27.1" fill="#963a3a" stroke="#1a1a1a" stroke-opacity="0.35" stroke-width="0.4"/>
<rect x="765.09" y="439.1" width="3.44" height="42.1" fill="#38628e" stroke="#1a1a1a" stroke-opacity="0.35" stroke-width="0.4"/>
<rect x="770.8" y="412.9" width="3.44" height="68.3" fill="#7a9444" stroke="#1a1a1a" stroke-opacity="0.35" stroke-width="0.4"/>
<rect x="774.64" y="454.8" width="3.44" height="26.4" fill="#963a3a" stroke="#1a1a1a" stroke-opacity="0.35" stroke-width="0.4"/>
<rect x="778.48" y="440" width="3.44" height="41.2" fill="#38628e" stroke="#1a1a1a" stroke-opacity="0.35" stroke-width="0.4"/>
<rect x="784.19" y="414.3" width="3.44" height="66.9" fill="#7a9444" stroke="#1a1a1a" stroke-opacity="0.35" stroke-width="0.4"/>
<rect x="788.03" y="455.2" width="3.44" height="26" fill="#963a3a" stroke="#1a1a1a" stroke-opacity="0.35" stroke-width="0.4"/>
<rect x="791.87" y="440.7" width="3.44" height="40.5" fill="#38628e" stroke="#1a1a1a" stroke-opacity="0.35" stroke-width="0.4"/>
<rect x="797.58" y="415.4" width="3.44" height="65.8" fill="#7a9444" stroke="#1a1a1a" stroke-opacity="0.35" stroke-width="0.4"/>
<rect x="801.42" y="455.5" width="3.44" height="25.7" fill="#963a3a" stroke="#1a1a1a" stroke-opacity="0.35" stroke-width="0.4"/>
<rect x="805.26" y="441.4" width="3.44" height="39.8" fill="#38628e" stroke="#1a1a1a" stroke-opacity="0.35" stroke-width="0.4"/>
<rect x="810.97" y="415.6" width="3.44" height="65.6" fill="#7a9444" stroke="#1a1a1a" stroke-opacity="0.35" stroke-width="0.4"/>
<rect x="814.81" y="455.5" width="3.44" height="25.7" fill="#963a3a" stroke="#1a1a1a" stroke-opacity="0.35" stroke-width="0.4"/>
<rect x="818.65" y="441.8" width="3.44" height="39.4" fill="#38628e" stroke="#1a1a1a" stroke-opacity="0.35" stroke-width="0.4"/>
<rect x="824.36" y="415.9" width="3.44" height="65.3" fill="#7a9444" stroke="#1a1a1a" stroke-opacity="0.35" stroke-width="0.4"/>
<rect x="828.2" y="455.5" width="3.44" height="25.7" fill="#963a3a" stroke="#1a1a1a" stroke-opacity="0.35" stroke-width="0.4"/>
<rect x="832.04" y="442" width="3.44" height="39.2" fill="#38628e" stroke="#1a1a1a" stroke-opacity="0.35" stroke-width="0.4"/>
<rect x="837.75" y="415.9" width="3.44" height="65.3" fill="#7a9444" stroke="#1a1a1a" stroke-opacity="0.35" stroke-width="0.4"/>
<rect x="841.59" y="455.5" width="3.44" height="25.7" fill="#963a3a" stroke="#1a1a1a" stroke-opacity="0.35" stroke-width="0.4"/>
<rect x="845.43" y="442" width="3.44" height="39.2" fill="#38628e" stroke="#1a1a1a" stroke-opacity="0.35" stroke-width="0.4"/>
<rect x="851.14" y="416.5" width="3.44" height="64.7" fill="#7a9444" stroke="#1a1a1a" stroke-opacity="0.35" stroke-width="0.4"/>
<rect x="854.98" y="455.5" width="3.44" height="25.7" fill="#963a3a" stroke="#1a1a1a" stroke-opacity="0.35" stroke-width="0.4"/>
<rect x="858.82" y="442.3" width="3.44" height="38.9" fill="#38628e" stroke="#1a1a1a" stroke-opacity="0.35" stroke-width="0.4"/>
<rect x="864.53" y="417.9" width="3.44" height="63.3" fill="#7a9444" stroke="#1a1a1a" stroke-opacity="0.35" stroke-width="0.4"/>
<rect x="868.37" y="456.1" width="3.44" height="25.1" fill="#963a3a" stroke="#1a1a1a" stroke-opacity="0.35" stroke-width="0.4"/>
<rect x="872.21" y="443.4" width="3.44" height="37.8" fill="#38628e" stroke="#1a1a1a" stroke-opacity="0.35" stroke-width="0.4"/>
<rect x="877.92" y="418.8" width="3.44" height="62.4" fill="#7a9444" stroke="#1a1a1a" stroke-opacity="0.35" stroke-width="0.4"/>
<rect x="881.76" y="456.4" width="3.44" height="24.8" fill="#963a3a" stroke="#1a1a1a" stroke-opacity="0.35" stroke-width="0.4"/>
<rect x="885.6" y="444.1" width="3.44" height="37.1" fill="#38628e" stroke="#1a1a1a" stroke-opacity="0.35" stroke-width="0.4"/>
<rect x="891.31" y="419.7" width="3.44" height="61.5" fill="#7a9444" stroke="#1a1a1a" stroke-opacity="0.35" stroke-width="0.4"/>
<rect x="895.15" y="456.6" width="3.44" height="24.6" fill="#963a3a" stroke="#1a1a1a" stroke-opacity="0.35" stroke-width="0.4"/>
<rect x="898.99" y="444.5" width="3.44" height="36.7" fill="#38628e" stroke="#1a1a1a" stroke-opacity="0.35" stroke-width="0.4"/>
<rect x="904.7" y="421.5" width="3.44" height="59.7" fill="#7a9444" stroke="#1a1a1a" stroke-opacity="0.35" stroke-width="0.4"/>
<rect x="908.54" y="457" width="3.44" height="24.2" fill="#963a3a" stroke="#1a1a1a" stroke-opacity="0.35" stroke-width="0.4"/>
<rect x="912.38" y="446.3" width="3.44" height="34.9" fill="#38628e" stroke="#1a1a1a" stroke-opacity="0.35" stroke-width="0.4"/>
<rect x="918.09" y="423.2" width="3.44" height="58" fill="#7a9444" stroke="#1a1a1a" stroke-opacity="0.35" stroke-width="0.4"/>
<rect x="921.93" y="457.5" width="3.44" height="23.7" fill="#963a3a" stroke="#1a1a1a" stroke-opacity="0.35" stroke-width="0.4"/>
<rect x="925.77" y="447.2" width="3.44" height="34" fill="#38628e" stroke="#1a1a1a" stroke-opacity="0.35" stroke-width="0.4"/>
<rect x="931.48" y="425.5" width="3.44" height="55.7" fill="#7a9444" stroke="#1a1a1a" stroke-opacity="0.35" stroke-width="0.4"/>
<rect x="935.32" y="458.2" width="3.44" height="23" fill="#963a3a" stroke="#1a1a1a" stroke-opacity="0.35" stroke-width="0.4"/>
<rect x="939.16" y="448.5" width="3.44" height="32.7" fill="#38628e" stroke="#1a1a1a" stroke-opacity="0.35" stroke-width="0.4"/>
<rect x="944.87" y="428.4" width="3.44" height="52.8" fill="#7a9444" stroke="#1a1a1a" stroke-opacity="0.35" stroke-width="0.4"/>
<rect x="948.71" y="459.3" width="3.44" height="21.9" fill="#963a3a" stroke="#1a1a1a" stroke-opacity="0.35" stroke-width="0.4"/>
<rect x="952.55" y="450.3" width="3.44" height="30.9" fill="#38628e" stroke="#1a1a1a" stroke-opacity="0.35" stroke-width="0.4"/>
<rect x="958.26" y="431.1" width="3.44" height="50.1" fill="#7a9444" stroke="#1a1a1a" stroke-opacity="0.35" stroke-width="0.4"/>
<rect x="962.1" y="460.2" width="3.44" height="21" fill="#963a3a" stroke="#1a1a1a" stroke-opacity="0.35" stroke-width="0.4"/>
<rect x="965.94" y="452.3" width="3.44" height="28.9" fill="#38628e" stroke="#1a1a1a" stroke-opacity="0.35" stroke-width="0.4"/>
<rect x="971.65" y="434" width="3.44" height="47.2" fill="#7a9444" stroke="#1a1a1a" stroke-opacity="0.35" stroke-width="0.4"/>
<rect x="975.49" y="462" width="3.44" height="19.2" fill="#963a3a" stroke="#1a1a1a" stroke-opacity="0.35" stroke-width="0.4"/>
<rect x="979.33" y="453.7" width="3.44" height="27.5" fill="#38628e" stroke="#1a1a1a" stroke-opacity="0.35" stroke-width="0.4"/>
<rect x="985.04" y="438.5" width="3.44" height="42.7" fill="#7a9444" stroke="#1a1a1a" stroke-opacity="0.35" stroke-width="0.4"/>
<rect x="988.88" y="464.2" width="3.44" height="17" fill="#963a3a" stroke="#1a1a1a" stroke-opacity="0.35" stroke-width="0.4"/>
<rect x="992.72" y="456.1" width="3.44" height="25.1" fill="#38628e" stroke="#1a1a1a" stroke-opacity="0.35" stroke-width="0.4"/>
<rect x="998.43" y="441.4" width="3.44" height="39.8" fill="#7a9444" stroke="#1a1a1a" stroke-opacity="0.35" stroke-width="0.4"/>
<rect x="1002.27" y="465.3" width="3.44" height="15.9" fill="#963a3a" stroke="#1a1a1a" stroke-opacity="0.35" stroke-width="0.4"/>
<rect x="1006.11" y="458.2" width="3.44" height="23" fill="#38628e" stroke="#1a1a1a" stroke-opacity="0.35" stroke-width="0.4"/>
<path d="M588.6 353 L601.99 355.3 L615.38 357.9 L628.77 361.4 L642.16 364.5 L655.55 366.8 L668.94 370.3 L682.33 373.5 L695.72 375.8 L709.11 378.1 L722.5 380.4 L735.89 383 L749.28 385.5 L762.67 388.5 L776.06 391.6 L789.45 393.9 L802.84 395.2 L816.23 395.8 L829.62 396.5 L843.01 396.9 L856.4 397.7 L869.79 399.3 L883.18 400.8 L896.57 402.2 L909.96 404 L923.35 406.4 L936.74 409.5 L950.13 413.2 L963.52 415.6 L976.91 417.3 L990.3 423.4 L1003.69 426.5" fill="none" stroke="#9a5460" stroke-width="1.1" stroke-linejoin="round"/>
<path d="M588.6 320.4 L601.99 323.7 L615.38 327.6 L628.77 331.7 L642.16 335.4 L655.55 338.7 L668.94 343.2 L682.33 347.3 L695.72 350.7 L709.11 354 L722.5 358.1 L735.89 360.3 L749.28 362.8 L762.67 366.6 L776.06 370.3 L789.45 373.3 L802.84 375.1 L816.23 376.6 L829.62 377.6 L843.01 378.4 L856.4 379.6 L869.79 382.1 L883.18 384.4 L896.57 386.4 L909.96 389 L923.35 392.1 L936.74 396.2 L950.13 400.3 L963.52 403.7 L976.91 406.4 L990.3 412.6 L1003.69 416.3" fill="none" stroke="#7f8d58" stroke-width="1.1" stroke-linejoin="round"/>
<path d="M588.6 289.2 L601.99 294.4 L615.38 299.5 L628.77 304.6 L642.16 309.3 L655.55 312.8 L668.94 318.6 L682.33 323.5 L695.72 327.5 L709.11 331 L722.5 334.6 L735.89 338.3 L749.28 342 L762.67 346.1 L776.06 350.1 L789.45 353.9 L802.84 356.3 L816.23 358.7 L829.62 360.4 L843.01 361.4 L856.4 362.8 L869.79 365.9 L883.18 369 L896.57 372.1 L909.96 375.6 L923.35 379.3 L936.74 384.5 L950.13 389.6 L963.52 393.7 L976.91 396.8 L990.3 402.9 L1003.69 406.4" fill="none" stroke="#4b6290" stroke-width="1.1" stroke-linejoin="round"/>
<line x1="561.5" y1="279.9" x2="561.5" y2="491.4" stroke="#5a5a5a" stroke-width="1"/>
<line x1="1031.5" y1="279.9" x2="1031.5" y2="491.4" stroke="#5a5a5a" stroke-width="1"/>
<line x1="561" y1="490.9" x2="1032" y2="490.9" stroke="#5a5a5a" stroke-width="1"/>
<text x="559.2" y="484.58" text-anchor="end" class="b" font-size="7.2">0e+00</text>
<text x="559.2" y="426.38" text-anchor="end" class="b" font-size="7.2">2e+05</text>
<text x="559.2" y="368.08" text-anchor="end" class="b" font-size="7.2">4e+05</text>
<text x="559.2" y="309.88" text-anchor="end" class="b" font-size="7.2">6e+05</text>
<text x="1033.8" y="484.58" class="r" font-size="7.2">0</text>
<text x="1033.8" y="426.38" class="r" font-size="7.2">10</text>
<text x="1033.8" y="368.08" class="r" font-size="7.2">20</text>
<text x="1033.8" y="309.88" class="r" font-size="7.2">30</text>
<text transform="translate(589.4 493.9) rotate(-55)" text-anchor="end" class="b" font-size="7.2" dy="5.18">1990</text>
<text transform="translate(723.3 493.9) rotate(-55)" text-anchor="end" class="b" font-size="7.2" dy="5.18">2000</text>
<text transform="translate(857.2 493.9) rotate(-55)" text-anchor="end" class="b" font-size="7.2" dy="5.18">2010</text>
<text transform="translate(991.1 493.9) rotate(-55)" text-anchor="end" class="b" font-size="7.2" dy="5.18">2020</text>
<text transform="translate(535.8 385) rotate(-90)" text-anchor="middle" class="b" font-size="7.3">Total DALYS Cases</text>
<text transform="translate(1044.4 385.2) rotate(90)" text-anchor="middle" class="b" font-size="7.3">Age Standardized DALYs Rate (per 100,000 population)</text>
<text x="796.5" y="517.2" text-anchor="middle" class="b" font-size="7.3">Age</text>
<text x="743.55" y="533.8" class="b" font-size="7.15">Sex</text>
<rect x="759.65" y="528" width="5.6" height="5.6" fill="#7a9444"/>
<rect x="788.05" y="528" width="5.6" height="5.6" fill="#963a3a"/>
<rect x="824.85" y="528" width="5.6" height="5.6" fill="#38628e"/>
<text x="768.35" y="533.8" class="b" font-size="7.15">Both</text>
<text x="796.75" y="533.8" class="b" font-size="7.15">Female</text>
<text x="833.85" y="533.8" class="b" font-size="7.15">Male</text>
<text x="528.4" y="274" font-family='"Liberation Serif", serif' font-weight="bold" font-size="13.6" fill="#000">D</text>
</svg>
</body></html>
